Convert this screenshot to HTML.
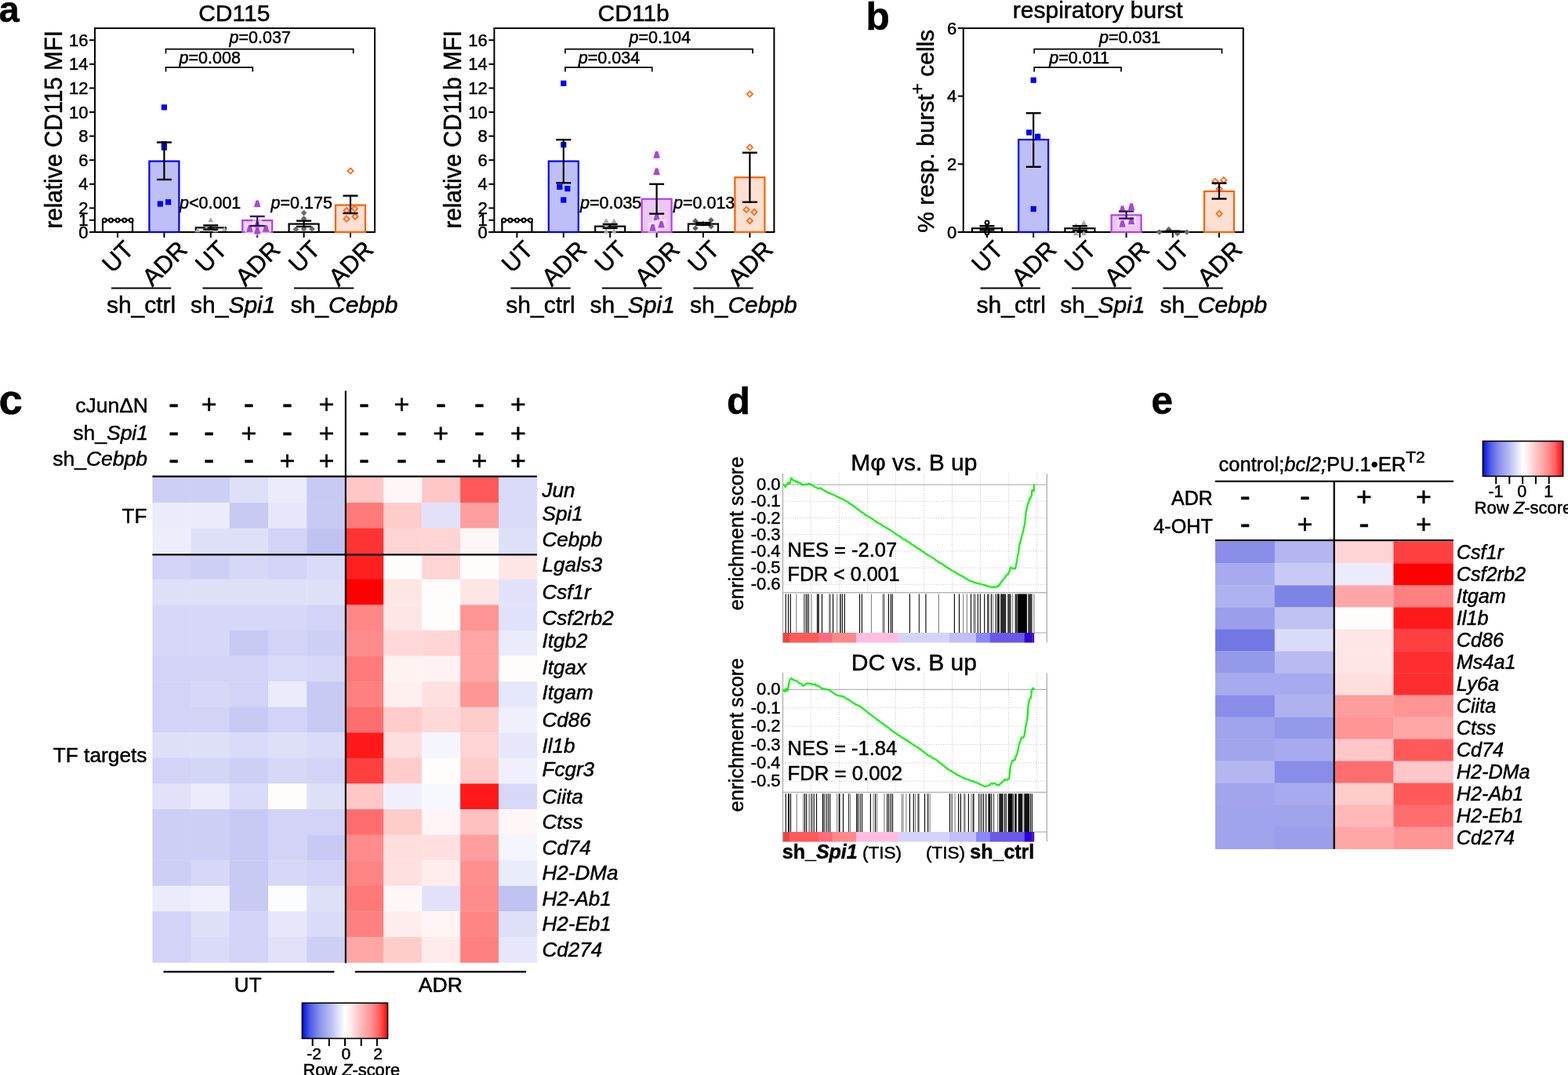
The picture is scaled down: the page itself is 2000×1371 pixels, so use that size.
<!DOCTYPE html>
<html><head><meta charset="utf-8"><title>Figure</title>
<style>html,body{margin:0;padding:0;background:#fff;} svg{display:block;} text{font-family:"Liberation Sans", Arial, Helvetica, sans-serif;stroke:#000;stroke-width:0.5px;} .nb{stroke-width:0;}</style>
</head><body>
<svg width="2000" height="1371" viewBox="0 0 2000 1371" font-family='"Liberation Sans", Arial, Helvetica, sans-serif'>
<rect x="0" y="0" width="2000" height="1371" fill="#fff"/>
<text x="298.8" y="27.1" font-size="30" text-anchor="middle">CD115</text>
<path d="M121,296 L121,36 L478,36 L478,296" fill="none" stroke="#000" stroke-width="2"/>
<line x1="114.00" y1="296.00" x2="479.00" y2="296.00" stroke="#000" stroke-width="2"/>
<line x1="114.00" y1="296.00" x2="121.00" y2="296.00" stroke="#000" stroke-width="2"/>
<text x="112.4" y="303.6" font-size="22" text-anchor="end">0</text>
<line x1="114.00" y1="280.70" x2="121.00" y2="280.70" stroke="#000" stroke-width="2"/>
<text x="112.4" y="288.3" font-size="22" text-anchor="end">1</text>
<line x1="114.00" y1="265.40" x2="121.00" y2="265.40" stroke="#000" stroke-width="2"/>
<text x="112.4" y="273.0" font-size="22" text-anchor="end">2</text>
<line x1="114.00" y1="234.80" x2="121.00" y2="234.80" stroke="#000" stroke-width="2"/>
<text x="112.4" y="242.4" font-size="22" text-anchor="end">4</text>
<line x1="114.00" y1="204.20" x2="121.00" y2="204.20" stroke="#000" stroke-width="2"/>
<text x="112.4" y="211.8" font-size="22" text-anchor="end">6</text>
<line x1="114.00" y1="173.60" x2="121.00" y2="173.60" stroke="#000" stroke-width="2"/>
<text x="112.4" y="181.2" font-size="22" text-anchor="end">8</text>
<line x1="114.00" y1="143.00" x2="121.00" y2="143.00" stroke="#000" stroke-width="2"/>
<text x="112.4" y="150.6" font-size="22" text-anchor="end">10</text>
<line x1="114.00" y1="112.40" x2="121.00" y2="112.40" stroke="#000" stroke-width="2"/>
<text x="112.4" y="120.0" font-size="22" text-anchor="end">12</text>
<line x1="114.00" y1="81.80" x2="121.00" y2="81.80" stroke="#000" stroke-width="2"/>
<text x="112.4" y="89.4" font-size="22" text-anchor="end">14</text>
<line x1="114.00" y1="51.20" x2="121.00" y2="51.20" stroke="#000" stroke-width="2"/>
<text x="112.4" y="58.8" font-size="22" text-anchor="end">16</text>
<line x1="150.00" y1="296.00" x2="150.00" y2="303.00" stroke="#000" stroke-width="2"/>
<line x1="209.40" y1="296.00" x2="209.40" y2="303.00" stroke="#000" stroke-width="2"/>
<line x1="268.80" y1="296.00" x2="268.80" y2="303.00" stroke="#000" stroke-width="2"/>
<line x1="328.20" y1="296.00" x2="328.20" y2="303.00" stroke="#000" stroke-width="2"/>
<line x1="387.60" y1="296.00" x2="387.60" y2="303.00" stroke="#000" stroke-width="2"/>
<line x1="447.00" y1="296.00" x2="447.00" y2="303.00" stroke="#000" stroke-width="2"/>
<rect x="131.00" y="280.70" width="38.00" height="15.30" fill="#fff" stroke="#000" stroke-width="2.2"/>
<rect x="190.40" y="205.58" width="38.00" height="90.42" fill="#bfbff7" stroke="#0000ff" stroke-width="2.2"/>
<rect x="249.80" y="290.34" width="38.00" height="5.66" fill="#fff" stroke="#000" stroke-width="2.2"/>
<rect x="309.20" y="281.01" width="38.00" height="14.99" fill="#ecc8f6" stroke="#b040f0" stroke-width="2.2"/>
<rect x="368.60" y="285.60" width="38.00" height="10.40" fill="#fff" stroke="#000" stroke-width="2.2"/>
<rect x="428.00" y="261.57" width="38.00" height="34.43" fill="#fde0d2" stroke="#ff6000" stroke-width="2.2"/>
<circle cx="133.2" cy="281.0" r="2.4" fill="#fff" stroke="#000" stroke-width="2"/>
<circle cx="141.5" cy="281.0" r="2.4" fill="#fff" stroke="#000" stroke-width="2"/>
<circle cx="150.0" cy="281.0" r="2.4" fill="#fff" stroke="#000" stroke-width="2"/>
<circle cx="158.8" cy="281.0" r="2.4" fill="#fff" stroke="#000" stroke-width="2"/>
<circle cx="167.2" cy="281.0" r="2.4" fill="#fff" stroke="#000" stroke-width="2"/>
<rect x="205.80" y="133.28" width="7.20" height="7.20" fill="#0000ff"/>
<rect x="205.80" y="179.95" width="7.20" height="7.20" fill="#0000ff"/>
<rect x="205.80" y="184.53" width="7.20" height="7.20" fill="#0000ff"/>
<rect x="200.80" y="256.44" width="7.20" height="7.20" fill="#0000ff"/>
<rect x="211.00" y="254.15" width="7.20" height="7.20" fill="#0000ff"/>
<line x1="209.40" y1="181.56" x2="209.40" y2="228.99" stroke="#000" stroke-width="2.2"/>
<line x1="199.90" y1="181.56" x2="218.90" y2="181.56" stroke="#000" stroke-width="2.4"/>
<line x1="199.90" y1="228.99" x2="218.90" y2="228.99" stroke="#000" stroke-width="2.4"/>
<path d="M268.8,277.1 L272.2,283.3 L265.4,283.3 Z" fill="#a8a8a8"/>
<path d="M251.8,290.1 L255.2,296.3 L248.4,296.3 Z" fill="#a8a8a8"/>
<path d="M263.2,287.4 L266.6,293.6 L259.8,293.6 Z" fill="#a8a8a8"/>
<path d="M274.8,290.1 L278.2,296.3 L271.4,296.3 Z" fill="#a8a8a8"/>
<path d="M286.2,288.6 L289.6,294.8 L282.8,294.8 Z" fill="#a8a8a8"/>
<line x1="268.80" y1="287.43" x2="268.80" y2="292.63" stroke="#000" stroke-width="2.2"/>
<line x1="259.30" y1="287.43" x2="278.30" y2="287.43" stroke="#000" stroke-width="2.4"/>
<line x1="259.30" y1="292.63" x2="278.30" y2="292.63" stroke="#000" stroke-width="2.4"/>
<rect x="322.2" y="253.0" width="12" height="13" fill="#f8ecfc" opacity="0.6"/>
<path d="M326.5,255.4 h3.4 L332.4,264.1 h-8.4 Z" fill="#a646de"/>
<rect x="312.5" y="284.7" width="12" height="13" fill="#f8ecfc" opacity="0.6"/>
<path d="M316.8,287.1 h3.4 L322.7,295.8 h-8.4 Z" fill="#a646de"/>
<rect x="333.2" y="284.7" width="12" height="13" fill="#f8ecfc" opacity="0.6"/>
<path d="M337.5,287.1 h3.4 L343.4,295.8 h-8.4 Z" fill="#a646de"/>
<rect x="322.2" y="279.8" width="12" height="13" fill="#f8ecfc" opacity="0.6"/>
<path d="M326.5,282.2 h3.4 L332.4,290.9 h-8.4 Z" fill="#a646de"/>
<rect x="322.2" y="287.5" width="12" height="13" fill="#f8ecfc" opacity="0.6"/>
<path d="M326.5,289.9 h3.4 L332.4,298.6 h-8.4 Z" fill="#a646de"/>
<line x1="328.20" y1="275.96" x2="328.20" y2="288.04" stroke="#3a1050" stroke-width="2.2"/>
<line x1="318.70" y1="275.96" x2="337.70" y2="275.96" stroke="#3a1050" stroke-width="2.4"/>
<line x1="318.70" y1="288.04" x2="337.70" y2="288.04" stroke="#3a1050" stroke-width="2.4"/>
<path d="M387.6,267.7 L391.4,271.5 L387.6,275.3 L383.8,271.5 Z" fill="#6a6a6a"/>
<path d="M387.6,274.9 L391.4,278.7 L387.6,282.5 L383.8,278.7 Z" fill="#6a6a6a"/>
<path d="M377.3,288.8 L381.1,292.6 L377.3,296.4 L373.5,292.6 Z" fill="#6a6a6a"/>
<path d="M387.6,288.1 L391.4,291.9 L387.6,295.7 L383.8,291.9 Z" fill="#6a6a6a"/>
<path d="M398.0,288.1 L401.8,291.9 L398.0,295.7 L394.2,291.9 Z" fill="#6a6a6a"/>
<line x1="387.60" y1="281.62" x2="387.60" y2="288.96" stroke="#000" stroke-width="2.2"/>
<line x1="378.10" y1="281.62" x2="397.10" y2="281.62" stroke="#000" stroke-width="2.4"/>
<line x1="378.10" y1="288.96" x2="397.10" y2="288.96" stroke="#000" stroke-width="2.4"/>
<path d="M447.0,214.4 L450.6,218.0 L447.0,221.6 L443.4,218.0 Z" fill="none" stroke="#ff6a10" stroke-width="1.8"/>
<path d="M442.0,264.9 L445.6,268.5 L442.0,272.1 L438.4,268.5 Z" fill="none" stroke="#ff6a10" stroke-width="1.8"/>
<path d="M452.4,262.6 L456.0,266.2 L452.4,269.8 L448.8,266.2 Z" fill="none" stroke="#ff6a10" stroke-width="1.8"/>
<path d="M442.0,275.6 L445.6,279.2 L442.0,282.8 L438.4,279.2 Z" fill="none" stroke="#ff6a10" stroke-width="1.8"/>
<path d="M453.0,272.5 L456.6,276.1 L453.0,279.7 L449.4,276.1 Z" fill="none" stroke="#ff6a10" stroke-width="1.8"/>
<line x1="447.00" y1="249.64" x2="447.00" y2="271.98" stroke="#000" stroke-width="2.2"/>
<line x1="437.50" y1="249.64" x2="456.50" y2="249.64" stroke="#000" stroke-width="2.4"/>
<line x1="437.50" y1="271.98" x2="456.50" y2="271.98" stroke="#000" stroke-width="2.4"/>
<path d="M211.5,68.3 L211.5,62.7 L450.7,62.7 L450.7,68.3" fill="none" stroke="#000" stroke-width="1.7"/>
<text x="292.6" y="55.3" font-size="21.5"><tspan font-style="italic">p</tspan>=0.037</text>
<path d="M211.5,91.4 L211.5,85.8 L322.3,85.8 L322.3,91.4" fill="none" stroke="#000" stroke-width="1.7"/>
<text x="228.6" y="81.2" font-size="21.5"><tspan font-style="italic">p</tspan>=0.008</text>
<text x="229.0" y="265.5" font-size="21.5"><tspan font-style="italic">p</tspan>&lt;0.001</text>
<text x="345.6" y="265.5" font-size="21.5"><tspan font-style="italic">p</tspan>=0.175</text>
<text x="0" y="0" font-size="31" text-anchor="end" transform="translate(172.5,320.2) rotate(-45)">UT</text>
<text x="0" y="0" font-size="31" text-anchor="end" transform="translate(240.6,320.1) rotate(-45)">ADR</text>
<text x="0" y="0" font-size="31" text-anchor="end" transform="translate(291.3,320.2) rotate(-45)">UT</text>
<text x="0" y="0" font-size="31" text-anchor="end" transform="translate(359.4,320.1) rotate(-45)">ADR</text>
<text x="0" y="0" font-size="31" text-anchor="end" transform="translate(410.1,320.2) rotate(-45)">UT</text>
<text x="0" y="0" font-size="31" text-anchor="end" transform="translate(478.2,320.1) rotate(-45)">ADR</text>
<line x1="142.00" y1="367.50" x2="218.30" y2="367.50" stroke="#000" stroke-width="2.2"/>
<line x1="258.50" y1="367.50" x2="334.80" y2="367.50" stroke="#000" stroke-width="2.2"/>
<line x1="375.00" y1="367.50" x2="451.30" y2="367.50" stroke="#000" stroke-width="2.2"/>
<text x="135.9" y="398.8" font-size="30">sh_ctrl</text>
<text x="243.0" y="398.75" font-size="30">sh_<tspan font-style="italic">Spi1</tspan></text>
<text x="370.6" y="398.75" font-size="30">sh_<tspan font-style="italic">Cebpb</tspan></text>
<text x="0" y="0" font-size="30.5" text-anchor="middle" textLength="252.5" lengthAdjust="spacingAndGlyphs" transform="translate(79.0,165.3) rotate(-90)">relative CD115 MFI</text>
<text x="808.2" y="27.1" font-size="30" text-anchor="middle">CD11b</text>
<path d="M630.4,296 L630.4,36 L987.4,36 L987.4,296" fill="none" stroke="#000" stroke-width="2"/>
<line x1="623.40" y1="296.00" x2="988.40" y2="296.00" stroke="#000" stroke-width="2"/>
<line x1="623.40" y1="296.00" x2="630.40" y2="296.00" stroke="#000" stroke-width="2"/>
<text x="621.8" y="303.6" font-size="22" text-anchor="end">0</text>
<line x1="623.40" y1="280.70" x2="630.40" y2="280.70" stroke="#000" stroke-width="2"/>
<text x="621.8" y="288.3" font-size="22" text-anchor="end">1</text>
<line x1="623.40" y1="265.40" x2="630.40" y2="265.40" stroke="#000" stroke-width="2"/>
<text x="621.8" y="273.0" font-size="22" text-anchor="end">2</text>
<line x1="623.40" y1="234.80" x2="630.40" y2="234.80" stroke="#000" stroke-width="2"/>
<text x="621.8" y="242.4" font-size="22" text-anchor="end">4</text>
<line x1="623.40" y1="204.20" x2="630.40" y2="204.20" stroke="#000" stroke-width="2"/>
<text x="621.8" y="211.8" font-size="22" text-anchor="end">6</text>
<line x1="623.40" y1="173.60" x2="630.40" y2="173.60" stroke="#000" stroke-width="2"/>
<text x="621.8" y="181.2" font-size="22" text-anchor="end">8</text>
<line x1="623.40" y1="143.00" x2="630.40" y2="143.00" stroke="#000" stroke-width="2"/>
<text x="621.8" y="150.6" font-size="22" text-anchor="end">10</text>
<line x1="623.40" y1="112.40" x2="630.40" y2="112.40" stroke="#000" stroke-width="2"/>
<text x="621.8" y="120.0" font-size="22" text-anchor="end">12</text>
<line x1="623.40" y1="81.80" x2="630.40" y2="81.80" stroke="#000" stroke-width="2"/>
<text x="621.8" y="89.4" font-size="22" text-anchor="end">14</text>
<line x1="623.40" y1="51.20" x2="630.40" y2="51.20" stroke="#000" stroke-width="2"/>
<text x="621.8" y="58.8" font-size="22" text-anchor="end">16</text>
<line x1="659.40" y1="296.00" x2="659.40" y2="303.00" stroke="#000" stroke-width="2"/>
<line x1="718.80" y1="296.00" x2="718.80" y2="303.00" stroke="#000" stroke-width="2"/>
<line x1="778.20" y1="296.00" x2="778.20" y2="303.00" stroke="#000" stroke-width="2"/>
<line x1="837.60" y1="296.00" x2="837.60" y2="303.00" stroke="#000" stroke-width="2"/>
<line x1="897.00" y1="296.00" x2="897.00" y2="303.00" stroke="#000" stroke-width="2"/>
<line x1="956.40" y1="296.00" x2="956.40" y2="303.00" stroke="#000" stroke-width="2"/>
<rect x="640.40" y="280.70" width="38.00" height="15.30" fill="#fff" stroke="#000" stroke-width="2.2"/>
<rect x="699.80" y="205.58" width="38.00" height="90.42" fill="#bfbff7" stroke="#0000ff" stroke-width="2.2"/>
<rect x="759.20" y="288.66" width="38.00" height="7.34" fill="#fff" stroke="#000" stroke-width="2.2"/>
<rect x="818.60" y="253.77" width="38.00" height="42.23" fill="#ecc8f6" stroke="#b040f0" stroke-width="2.2"/>
<rect x="878.00" y="285.60" width="38.00" height="10.40" fill="#fff" stroke="#000" stroke-width="2.2"/>
<rect x="937.40" y="226.23" width="38.00" height="69.77" fill="#fde0d2" stroke="#ff6000" stroke-width="2.2"/>
<circle cx="642.6" cy="281.0" r="2.4" fill="#fff" stroke="#000" stroke-width="2"/>
<circle cx="650.9" cy="281.0" r="2.4" fill="#fff" stroke="#000" stroke-width="2"/>
<circle cx="659.4" cy="281.0" r="2.4" fill="#fff" stroke="#000" stroke-width="2"/>
<circle cx="668.1" cy="281.0" r="2.4" fill="#fff" stroke="#000" stroke-width="2"/>
<circle cx="676.6" cy="281.0" r="2.4" fill="#fff" stroke="#000" stroke-width="2"/>
<rect x="715.20" y="102.68" width="7.20" height="7.20" fill="#0000ff"/>
<rect x="715.20" y="181.02" width="7.20" height="7.20" fill="#0000ff"/>
<rect x="710.20" y="234.72" width="7.20" height="7.20" fill="#0000ff"/>
<rect x="720.20" y="237.01" width="7.20" height="7.20" fill="#0000ff"/>
<rect x="715.20" y="251.40" width="7.20" height="7.20" fill="#0000ff"/>
<line x1="718.80" y1="178.19" x2="718.80" y2="233.27" stroke="#000" stroke-width="2.2"/>
<line x1="709.30" y1="178.19" x2="728.30" y2="178.19" stroke="#000" stroke-width="2.4"/>
<line x1="709.30" y1="233.27" x2="728.30" y2="233.27" stroke="#000" stroke-width="2.4"/>
<path d="M773.2,277.9 L776.6,284.1 L769.8,284.1 Z" fill="#a8a8a8"/>
<path d="M783.2,278.6 L786.6,284.8 L779.8,284.8 Z" fill="#a8a8a8"/>
<path d="M773.2,284.8 L776.6,291.0 L769.8,291.0 Z" fill="#a8a8a8"/>
<path d="M773.2,291.3 L776.6,297.5 L769.8,297.5 Z" fill="#a8a8a8"/>
<path d="M783.2,291.3 L786.6,297.5 L779.8,297.5 Z" fill="#a8a8a8"/>
<line x1="778.20" y1="285.90" x2="778.20" y2="290.95" stroke="#000" stroke-width="2.2"/>
<line x1="768.70" y1="285.90" x2="787.70" y2="285.90" stroke="#000" stroke-width="2.4"/>
<line x1="768.70" y1="290.95" x2="787.70" y2="290.95" stroke="#000" stroke-width="2.4"/>
<rect x="831.6" y="190.6" width="12" height="13" fill="#f8ecfc" opacity="0.6"/>
<path d="M835.9,193.0 h3.4 L841.8,201.7 h-8.4 Z" fill="#a646de"/>
<rect x="831.6" y="212.0" width="12" height="13" fill="#f8ecfc" opacity="0.6"/>
<path d="M835.9,214.4 h3.4 L841.8,223.1 h-8.4 Z" fill="#a646de"/>
<rect x="831.6" y="269.9" width="12" height="13" fill="#f8ecfc" opacity="0.6"/>
<path d="M835.9,272.3 h3.4 L841.8,281.0 h-8.4 Z" fill="#a646de"/>
<rect x="837.6" y="279.5" width="12" height="13" fill="#f8ecfc" opacity="0.6"/>
<path d="M841.9,281.9 h3.4 L847.8,290.6 h-8.4 Z" fill="#a646de"/>
<rect x="826.6" y="283.6" width="12" height="13" fill="#f8ecfc" opacity="0.6"/>
<path d="M830.9,286.0 h3.4 L836.8,294.7 h-8.4 Z" fill="#a646de"/>
<line x1="837.60" y1="234.80" x2="837.60" y2="272.59" stroke="#000" stroke-width="2.2"/>
<line x1="828.10" y1="234.80" x2="847.10" y2="234.80" stroke="#000" stroke-width="2.4"/>
<line x1="828.10" y1="272.59" x2="847.10" y2="272.59" stroke="#000" stroke-width="2.4"/>
<path d="M887.0,278.1 L890.8,281.9 L887.0,285.7 L883.2,281.9 Z" fill="#606060"/>
<path d="M907.0,276.9 L910.8,280.7 L907.0,284.5 L903.2,280.7 Z" fill="#606060"/>
<path d="M887.0,287.2 L890.8,291.0 L887.0,294.8 L883.2,291.0 Z" fill="#606060"/>
<path d="M907.0,284.9 L910.8,288.7 L907.0,292.5 L903.2,288.7 Z" fill="#606060"/>
<path d="M897.0,281.5 L900.8,285.3 L897.0,289.1 L893.2,285.3 Z" fill="#606060"/>
<line x1="897.00" y1="284.07" x2="897.00" y2="286.82" stroke="#000" stroke-width="2.2"/>
<line x1="887.50" y1="284.07" x2="906.50" y2="284.07" stroke="#000" stroke-width="2.4"/>
<line x1="887.50" y1="286.82" x2="906.50" y2="286.82" stroke="#000" stroke-width="2.4"/>
<path d="M956.4,116.4 L960.0,120.0 L956.4,123.6 L952.8,120.0 Z" fill="none" stroke="#ff6a10" stroke-width="1.8"/>
<path d="M956.4,184.4 L960.0,188.0 L956.4,191.6 L952.8,188.0 Z" fill="none" stroke="#ff6a10" stroke-width="1.8"/>
<path d="M952.0,263.9 L955.6,267.5 L952.0,271.1 L948.4,267.5 Z" fill="none" stroke="#ff6a10" stroke-width="1.8"/>
<path d="M962.0,267.0 L965.6,270.6 L962.0,274.2 L958.4,270.6 Z" fill="none" stroke="#ff6a10" stroke-width="1.8"/>
<path d="M956.4,278.0 L960.0,281.6 L956.4,285.2 L952.8,281.6 Z" fill="none" stroke="#ff6a10" stroke-width="1.8"/>
<line x1="956.40" y1="194.71" x2="956.40" y2="257.75" stroke="#000" stroke-width="2.2"/>
<line x1="946.90" y1="194.71" x2="965.90" y2="194.71" stroke="#000" stroke-width="2.4"/>
<line x1="946.90" y1="257.75" x2="965.90" y2="257.75" stroke="#000" stroke-width="2.4"/>
<path d="M720.9,68.3 L720.9,62.7 L960.1,62.7 L960.1,68.3" fill="none" stroke="#000" stroke-width="1.7"/>
<text x="802.6" y="55.3" font-size="21.5"><tspan font-style="italic">p</tspan>=0.104</text>
<path d="M720.9,91.4 L720.9,85.8 L831.7,85.8 L831.7,91.4" fill="none" stroke="#000" stroke-width="1.7"/>
<text x="737.8" y="81.2" font-size="21.5"><tspan font-style="italic">p</tspan>=0.034</text>
<text x="740.0" y="265.5" font-size="21.5"><tspan font-style="italic">p</tspan>=0.035</text>
<text x="859.0" y="265.5" font-size="21.5"><tspan font-style="italic">p</tspan>=0.013</text>
<text x="0" y="0" font-size="31" text-anchor="end" transform="translate(681.9,320.2) rotate(-45)">UT</text>
<text x="0" y="0" font-size="31" text-anchor="end" transform="translate(750.0,320.1) rotate(-45)">ADR</text>
<text x="0" y="0" font-size="31" text-anchor="end" transform="translate(800.7,320.2) rotate(-45)">UT</text>
<text x="0" y="0" font-size="31" text-anchor="end" transform="translate(868.8,320.1) rotate(-45)">ADR</text>
<text x="0" y="0" font-size="31" text-anchor="end" transform="translate(919.5,320.2) rotate(-45)">UT</text>
<text x="0" y="0" font-size="31" text-anchor="end" transform="translate(987.6,320.1) rotate(-45)">ADR</text>
<line x1="651.40" y1="367.50" x2="727.70" y2="367.50" stroke="#000" stroke-width="2.2"/>
<line x1="767.90" y1="367.50" x2="844.20" y2="367.50" stroke="#000" stroke-width="2.2"/>
<line x1="884.40" y1="367.50" x2="960.70" y2="367.50" stroke="#000" stroke-width="2.2"/>
<text x="645.3" y="398.8" font-size="30">sh_ctrl</text>
<text x="752.4" y="398.75" font-size="30">sh_<tspan font-style="italic">Spi1</tspan></text>
<text x="880.0" y="398.75" font-size="30">sh_<tspan font-style="italic">Cebpb</tspan></text>
<text x="0" y="0" font-size="30.5" text-anchor="middle" textLength="252.5" lengthAdjust="spacingAndGlyphs" transform="translate(588.4,165.3) rotate(-90)">relative CD11b MFI</text>
<text x="1400.2" y="22.5" font-size="30" text-anchor="middle">respiratory burst</text>
<path d="M1228.75,296 L1228.75,36 L1585.75,36 L1585.75,296" fill="none" stroke="#000" stroke-width="2"/>
<line x1="1221.75" y1="296.00" x2="1586.75" y2="296.00" stroke="#000" stroke-width="2"/>
<line x1="1221.75" y1="296.00" x2="1228.75" y2="296.00" stroke="#000" stroke-width="2"/>
<text x="1220.2" y="303.6" font-size="22" text-anchor="end">0</text>
<line x1="1221.75" y1="209.30" x2="1228.75" y2="209.30" stroke="#000" stroke-width="2"/>
<text x="1220.2" y="216.9" font-size="22" text-anchor="end">2</text>
<line x1="1221.75" y1="122.60" x2="1228.75" y2="122.60" stroke="#000" stroke-width="2"/>
<text x="1220.2" y="130.2" font-size="22" text-anchor="end">4</text>
<line x1="1221.75" y1="35.90" x2="1228.75" y2="35.90" stroke="#000" stroke-width="2"/>
<text x="1220.2" y="43.5" font-size="22" text-anchor="end">6</text>
<line x1="1258.95" y1="296.00" x2="1258.95" y2="303.00" stroke="#000" stroke-width="2"/>
<line x1="1318.17" y1="296.00" x2="1318.17" y2="303.00" stroke="#000" stroke-width="2"/>
<line x1="1377.39" y1="296.00" x2="1377.39" y2="303.00" stroke="#000" stroke-width="2"/>
<line x1="1436.61" y1="296.00" x2="1436.61" y2="303.00" stroke="#000" stroke-width="2"/>
<line x1="1495.83" y1="296.00" x2="1495.83" y2="303.00" stroke="#000" stroke-width="2"/>
<line x1="1555.05" y1="296.00" x2="1555.05" y2="303.00" stroke="#000" stroke-width="2"/>
<rect x="1239.95" y="291.23" width="38.00" height="4.77" fill="#fff" stroke="#000" stroke-width="2.2"/>
<rect x="1299.17" y="178.09" width="38.00" height="117.91" fill="#bfbff7" stroke="#0000ff" stroke-width="2.2"/>
<rect x="1358.39" y="291.23" width="38.00" height="4.77" fill="#fff" stroke="#000" stroke-width="2.2"/>
<rect x="1417.61" y="274.32" width="38.00" height="21.68" fill="#ecc8f6" stroke="#b040f0" stroke-width="2.2"/>
<rect x="1476.83" y="295.13" width="38.00" height="0.87" fill="#fff" stroke="#000" stroke-width="2.2"/>
<rect x="1536.05" y="243.98" width="38.00" height="52.02" fill="#fde0d2" stroke="#ff6000" stroke-width="2.2"/>
<circle cx="1259.0" cy="283.9" r="2.4" fill="#fff" stroke="#000" stroke-width="2"/>
<circle cx="1259.0" cy="292.5" r="2.4" fill="#fff" stroke="#000" stroke-width="2"/>
<circle cx="1259.0" cy="295.1" r="2.4" fill="#fff" stroke="#000" stroke-width="2"/>
<circle cx="1259.0" cy="296.9" r="2.4" fill="#fff" stroke="#000" stroke-width="2"/>
<circle cx="1259.0" cy="293.8" r="2.4" fill="#fff" stroke="#000" stroke-width="2"/>
<line x1="1258.95" y1="288.20" x2="1258.95" y2="293.40" stroke="#000" stroke-width="2.2"/>
<line x1="1249.45" y1="288.20" x2="1268.45" y2="288.20" stroke="#000" stroke-width="2.4"/>
<line x1="1249.45" y1="293.40" x2="1268.45" y2="293.40" stroke="#000" stroke-width="2.4"/>
<rect x="1314.57" y="98.63" width="7.20" height="7.20" fill="#0000ff"/>
<rect x="1309.07" y="165.38" width="7.20" height="7.20" fill="#0000ff"/>
<rect x="1320.07" y="170.59" width="7.20" height="7.20" fill="#0000ff"/>
<rect x="1314.57" y="262.92" width="7.20" height="7.20" fill="#0000ff"/>
<line x1="1318.17" y1="144.28" x2="1318.17" y2="212.77" stroke="#000" stroke-width="2.2"/>
<line x1="1308.67" y1="144.28" x2="1327.67" y2="144.28" stroke="#000" stroke-width="2.4"/>
<line x1="1308.67" y1="212.77" x2="1327.67" y2="212.77" stroke="#000" stroke-width="2.4"/>
<path d="M1382.4,280.7 L1385.8,286.9 L1379.0,286.9 Z" fill="#a8a8a8"/>
<path d="M1372.4,284.2 L1375.8,290.4 L1369.0,290.4 Z" fill="#a8a8a8"/>
<path d="M1372.4,294.1 L1375.8,300.3 L1369.0,300.3 Z" fill="#a8a8a8"/>
<path d="M1382.4,294.1 L1385.8,300.3 L1379.0,300.3 Z" fill="#a8a8a8"/>
<line x1="1377.39" y1="288.20" x2="1377.39" y2="293.83" stroke="#000" stroke-width="2.2"/>
<line x1="1367.89" y1="288.20" x2="1386.89" y2="288.20" stroke="#000" stroke-width="2.4"/>
<line x1="1367.89" y1="293.83" x2="1386.89" y2="293.83" stroke="#000" stroke-width="2.4"/>
<rect x="1425.6" y="260.0" width="12" height="13" fill="#f8ecfc" opacity="0.6"/>
<path d="M1429.9,262.4 h3.4 L1435.8,271.1 h-8.4 Z" fill="#a646de"/>
<rect x="1437.1" y="256.9" width="12" height="13" fill="#f8ecfc" opacity="0.6"/>
<path d="M1441.4,259.3 h3.4 L1447.3,268.0 h-8.4 Z" fill="#a646de"/>
<rect x="1425.6" y="278.6" width="12" height="13" fill="#f8ecfc" opacity="0.6"/>
<path d="M1429.9,281.0 h3.4 L1435.8,289.7 h-8.4 Z" fill="#a646de"/>
<rect x="1437.1" y="275.1" width="12" height="13" fill="#f8ecfc" opacity="0.6"/>
<path d="M1441.4,277.5 h3.4 L1447.3,286.2 h-8.4 Z" fill="#a646de"/>
<line x1="1436.61" y1="269.56" x2="1436.61" y2="278.66" stroke="#3a1050" stroke-width="2.2"/>
<line x1="1427.11" y1="269.56" x2="1446.11" y2="269.56" stroke="#3a1050" stroke-width="2.4"/>
<line x1="1427.11" y1="278.66" x2="1446.11" y2="278.66" stroke="#3a1050" stroke-width="2.4"/>
<path d="M1478.8,292.2 L1482.6,296.0 L1478.8,299.8 L1475.0,296.0 Z" fill="#6a6a6a"/>
<path d="M1490.8,288.7 L1494.6,292.5 L1490.8,296.3 L1487.0,292.5 Z" fill="#6a6a6a"/>
<path d="M1501.8,293.9 L1505.6,297.7 L1501.8,301.5 L1498.0,297.7 Z" fill="#6a6a6a"/>
<path d="M1513.8,292.2 L1517.6,296.0 L1513.8,299.8 L1510.0,296.0 Z" fill="#6a6a6a"/>
<line x1="1495.83" y1="294.70" x2="1495.83" y2="295.57" stroke="#000" stroke-width="2.2"/>
<line x1="1486.33" y1="294.70" x2="1505.33" y2="294.70" stroke="#000" stroke-width="2.4"/>
<line x1="1486.33" y1="295.57" x2="1505.33" y2="295.57" stroke="#000" stroke-width="2.4"/>
<path d="M1550.1,227.8 L1553.7,231.4 L1550.1,235.0 L1546.5,231.4 Z" fill="none" stroke="#ff6a10" stroke-width="1.8"/>
<path d="M1560.8,226.1 L1564.4,229.7 L1560.8,233.3 L1557.2,229.7 Z" fill="none" stroke="#ff6a10" stroke-width="1.8"/>
<path d="M1555.1,237.3 L1558.7,240.9 L1555.1,244.5 L1551.5,240.9 Z" fill="none" stroke="#ff6a10" stroke-width="1.8"/>
<path d="M1555.1,269.0 L1558.7,272.6 L1555.1,276.2 L1551.5,272.6 Z" fill="none" stroke="#ff6a10" stroke-width="1.8"/>
<line x1="1555.05" y1="233.58" x2="1555.05" y2="253.52" stroke="#000" stroke-width="2.2"/>
<line x1="1545.55" y1="233.58" x2="1564.55" y2="233.58" stroke="#000" stroke-width="2.4"/>
<line x1="1545.55" y1="253.52" x2="1564.55" y2="253.52" stroke="#000" stroke-width="2.4"/>
<path d="M1319.2,68.3 L1319.2,62.7 L1558.5,62.7 L1558.5,68.3" fill="none" stroke="#000" stroke-width="1.7"/>
<text x="1402.0" y="55.3" font-size="21.5"><tspan font-style="italic">p</tspan>=0.031</text>
<path d="M1319.2,91.4 L1319.2,85.8 L1430.0,85.8 L1430.0,91.4" fill="none" stroke="#000" stroke-width="1.7"/>
<text x="1338.3" y="81.2" font-size="21.5"><tspan font-style="italic">p</tspan>=0.011</text>
<text x="0" y="0" font-size="31" text-anchor="end" transform="translate(1281.5,320.2) rotate(-45)">UT</text>
<text x="0" y="0" font-size="31" text-anchor="end" transform="translate(1349.4,320.1) rotate(-45)">ADR</text>
<text x="0" y="0" font-size="31" text-anchor="end" transform="translate(1399.9,320.2) rotate(-45)">UT</text>
<text x="0" y="0" font-size="31" text-anchor="end" transform="translate(1467.8,320.1) rotate(-45)">ADR</text>
<text x="0" y="0" font-size="31" text-anchor="end" transform="translate(1518.3,320.2) rotate(-45)">UT</text>
<text x="0" y="0" font-size="31" text-anchor="end" transform="translate(1586.3,320.1) rotate(-45)">ADR</text>
<line x1="1250.50" y1="367.50" x2="1326.80" y2="367.50" stroke="#000" stroke-width="2.2"/>
<line x1="1367.00" y1="367.50" x2="1443.30" y2="367.50" stroke="#000" stroke-width="2.2"/>
<line x1="1483.50" y1="367.50" x2="1559.80" y2="367.50" stroke="#000" stroke-width="2.2"/>
<text x="1245.6" y="398.8" font-size="30">sh_ctrl</text>
<text x="1352.2" y="398.75" font-size="30">sh_<tspan font-style="italic">Spi1</tspan></text>
<text x="1479.4" y="398.75" font-size="30">sh_<tspan font-style="italic">Cebpb</tspan></text>
<text x="0" y="0" font-size="30" text-anchor="middle" transform="translate(1190.8,167.3) rotate(-90)">% resp. burst<tspan font-size="24" dy="-12.5">+</tspan><tspan dy="12.5"> cells</tspan></text>
<text x="-1.3" y="28.0" font-size="46.5" font-weight="bold">a</text>
<text x="1104.6" y="37.6" font-size="49.5" font-weight="bold">b</text>
<rect x="194.40" y="608.50" width="49.50" height="32.88" fill="#cdcff5"/>
<rect x="243.60" y="608.50" width="49.50" height="32.88" fill="#cdcff5"/>
<rect x="292.80" y="608.50" width="49.50" height="32.88" fill="#dee0f8"/>
<rect x="342.00" y="608.50" width="49.50" height="32.88" fill="#ebecfb"/>
<rect x="391.20" y="608.50" width="49.50" height="32.88" fill="#c8caf4"/>
<rect x="440.40" y="608.50" width="49.20" height="32.88" fill="#ffc7c7"/>
<rect x="489.30" y="608.50" width="49.20" height="32.88" fill="#fff7f7"/>
<rect x="538.20" y="608.50" width="49.20" height="32.88" fill="#ffc7c7"/>
<rect x="587.10" y="608.50" width="49.20" height="32.88" fill="#ff5959"/>
<rect x="636.00" y="608.50" width="49.20" height="32.88" fill="#d9dbf8"/>
<rect x="194.40" y="641.08" width="49.50" height="32.88" fill="#ebecfb"/>
<rect x="243.60" y="641.08" width="49.50" height="32.88" fill="#ebecfb"/>
<rect x="292.80" y="641.08" width="49.50" height="32.88" fill="#c8caf4"/>
<rect x="342.00" y="641.08" width="49.50" height="32.88" fill="#e6e7fa"/>
<rect x="391.20" y="641.08" width="49.50" height="32.88" fill="#c8caf4"/>
<rect x="440.40" y="641.08" width="49.20" height="32.88" fill="#ff7a7a"/>
<rect x="489.30" y="641.08" width="49.20" height="32.88" fill="#ffcccc"/>
<rect x="538.20" y="641.08" width="49.20" height="32.88" fill="#e1e2f9"/>
<rect x="587.10" y="641.08" width="49.20" height="32.88" fill="#ff9e9e"/>
<rect x="636.00" y="641.08" width="49.20" height="32.88" fill="#d9dbf8"/>
<rect x="194.40" y="673.66" width="49.50" height="32.88" fill="#edeefc"/>
<rect x="243.60" y="673.66" width="49.50" height="32.88" fill="#dee0f8"/>
<rect x="292.80" y="673.66" width="49.50" height="32.88" fill="#dee0f8"/>
<rect x="342.00" y="673.66" width="49.50" height="32.88" fill="#d2d3f6"/>
<rect x="391.20" y="673.66" width="49.50" height="32.88" fill="#c0c2f2"/>
<rect x="440.40" y="673.66" width="49.20" height="32.88" fill="#ff3333"/>
<rect x="489.30" y="673.66" width="49.20" height="32.88" fill="#ffd4d4"/>
<rect x="538.20" y="673.66" width="49.20" height="32.88" fill="#ffd4d4"/>
<rect x="587.10" y="673.66" width="49.20" height="32.88" fill="#fff7f7"/>
<rect x="636.00" y="673.66" width="49.20" height="32.88" fill="#dee0f8"/>
<rect x="194.40" y="706.24" width="49.50" height="32.88" fill="#d2d3f6"/>
<rect x="243.60" y="706.24" width="49.50" height="32.88" fill="#cdcff5"/>
<rect x="292.80" y="706.24" width="49.50" height="32.88" fill="#d7d8f7"/>
<rect x="342.00" y="706.24" width="49.50" height="32.88" fill="#d2d3f6"/>
<rect x="391.20" y="706.24" width="49.50" height="32.88" fill="#d9dbf8"/>
<rect x="440.40" y="706.24" width="49.20" height="32.88" fill="#ff1f1f"/>
<rect x="489.30" y="706.24" width="49.20" height="32.88" fill="#fffcfc"/>
<rect x="538.20" y="706.24" width="49.20" height="32.88" fill="#ffd4d4"/>
<rect x="587.10" y="706.24" width="49.20" height="32.88" fill="#fffcfc"/>
<rect x="636.00" y="706.24" width="49.20" height="32.88" fill="#ffe6e6"/>
<rect x="194.40" y="738.82" width="49.50" height="32.88" fill="#dee0f8"/>
<rect x="243.60" y="738.82" width="49.50" height="32.88" fill="#dee0f8"/>
<rect x="292.80" y="738.82" width="49.50" height="32.88" fill="#dee0f8"/>
<rect x="342.00" y="738.82" width="49.50" height="32.88" fill="#dee0f8"/>
<rect x="391.20" y="738.82" width="49.50" height="32.88" fill="#dee0f8"/>
<rect x="440.40" y="738.82" width="49.20" height="32.88" fill="#ff0000"/>
<rect x="489.30" y="738.82" width="49.20" height="32.88" fill="#ffe6e6"/>
<rect x="538.20" y="738.82" width="49.20" height="32.88" fill="#fffcfc"/>
<rect x="587.10" y="738.82" width="49.20" height="32.88" fill="#ffe6e6"/>
<rect x="636.00" y="738.82" width="49.20" height="32.88" fill="#e1e2f9"/>
<rect x="194.40" y="771.40" width="49.50" height="32.88" fill="#d7d8f7"/>
<rect x="243.60" y="771.40" width="49.50" height="32.88" fill="#d7d8f7"/>
<rect x="292.80" y="771.40" width="49.50" height="32.88" fill="#d7d8f7"/>
<rect x="342.00" y="771.40" width="49.50" height="32.88" fill="#d7d8f7"/>
<rect x="391.20" y="771.40" width="49.50" height="32.88" fill="#d2d3f6"/>
<rect x="440.40" y="771.40" width="49.20" height="32.88" fill="#ff8787"/>
<rect x="489.30" y="771.40" width="49.20" height="32.88" fill="#ffe6e6"/>
<rect x="538.20" y="771.40" width="49.20" height="32.88" fill="#fffcfc"/>
<rect x="587.10" y="771.40" width="49.20" height="32.88" fill="#ff9494"/>
<rect x="636.00" y="771.40" width="49.20" height="32.88" fill="#e1e2f9"/>
<rect x="194.40" y="803.98" width="49.50" height="32.88" fill="#d7d8f7"/>
<rect x="243.60" y="803.98" width="49.50" height="32.88" fill="#d7d8f7"/>
<rect x="292.80" y="803.98" width="49.50" height="32.88" fill="#c8caf4"/>
<rect x="342.00" y="803.98" width="49.50" height="32.88" fill="#d2d3f6"/>
<rect x="391.20" y="803.98" width="49.50" height="32.88" fill="#cdcff5"/>
<rect x="440.40" y="803.98" width="49.20" height="32.88" fill="#ff8c8c"/>
<rect x="489.30" y="803.98" width="49.20" height="32.88" fill="#ffd9d9"/>
<rect x="538.20" y="803.98" width="49.20" height="32.88" fill="#ffd4d4"/>
<rect x="587.10" y="803.98" width="49.20" height="32.88" fill="#ffa6a6"/>
<rect x="636.00" y="803.98" width="49.20" height="32.88" fill="#ebecfb"/>
<rect x="194.40" y="836.56" width="49.50" height="32.88" fill="#d2d3f6"/>
<rect x="243.60" y="836.56" width="49.50" height="32.88" fill="#d2d3f6"/>
<rect x="292.80" y="836.56" width="49.50" height="32.88" fill="#d2d3f6"/>
<rect x="342.00" y="836.56" width="49.50" height="32.88" fill="#d9dbf8"/>
<rect x="391.20" y="836.56" width="49.50" height="32.88" fill="#d7d8f7"/>
<rect x="440.40" y="836.56" width="49.20" height="32.88" fill="#ff7a7a"/>
<rect x="489.30" y="836.56" width="49.20" height="32.88" fill="#fff2f2"/>
<rect x="538.20" y="836.56" width="49.20" height="32.88" fill="#fff2f2"/>
<rect x="587.10" y="836.56" width="49.20" height="32.88" fill="#ffa6a6"/>
<rect x="636.00" y="836.56" width="49.20" height="32.88" fill="#fffcfc"/>
<rect x="194.40" y="869.14" width="49.50" height="32.88" fill="#d2d3f6"/>
<rect x="243.60" y="869.14" width="49.50" height="32.88" fill="#d7d8f7"/>
<rect x="292.80" y="869.14" width="49.50" height="32.88" fill="#d2d3f6"/>
<rect x="342.00" y="869.14" width="49.50" height="32.88" fill="#ebecfb"/>
<rect x="391.20" y="869.14" width="49.50" height="32.88" fill="#c8caf4"/>
<rect x="440.40" y="869.14" width="49.20" height="32.88" fill="#ff8080"/>
<rect x="489.30" y="869.14" width="49.20" height="32.88" fill="#fff0f0"/>
<rect x="538.20" y="869.14" width="49.20" height="32.88" fill="#ffe0e0"/>
<rect x="587.10" y="869.14" width="49.20" height="32.88" fill="#ff9696"/>
<rect x="636.00" y="869.14" width="49.20" height="32.88" fill="#e6e7fa"/>
<rect x="194.40" y="901.72" width="49.50" height="32.88" fill="#d2d3f6"/>
<rect x="243.60" y="901.72" width="49.50" height="32.88" fill="#d2d3f6"/>
<rect x="292.80" y="901.72" width="49.50" height="32.88" fill="#c8caf4"/>
<rect x="342.00" y="901.72" width="49.50" height="32.88" fill="#d2d3f6"/>
<rect x="391.20" y="901.72" width="49.50" height="32.88" fill="#c8caf4"/>
<rect x="440.40" y="901.72" width="49.20" height="32.88" fill="#ff6e6e"/>
<rect x="489.30" y="901.72" width="49.20" height="32.88" fill="#ffcccc"/>
<rect x="538.20" y="901.72" width="49.20" height="32.88" fill="#ffd9d9"/>
<rect x="587.10" y="901.72" width="49.20" height="32.88" fill="#ffcccc"/>
<rect x="636.00" y="901.72" width="49.20" height="32.88" fill="#f0f0fc"/>
<rect x="194.40" y="934.30" width="49.50" height="32.88" fill="#dee0f8"/>
<rect x="243.60" y="934.30" width="49.50" height="32.88" fill="#dee0f8"/>
<rect x="292.80" y="934.30" width="49.50" height="32.88" fill="#d9dbf8"/>
<rect x="342.00" y="934.30" width="49.50" height="32.88" fill="#dee0f8"/>
<rect x="391.20" y="934.30" width="49.50" height="32.88" fill="#d9dbf8"/>
<rect x="440.40" y="934.30" width="49.20" height="32.88" fill="#ff1919"/>
<rect x="489.30" y="934.30" width="49.20" height="32.88" fill="#ffdede"/>
<rect x="538.20" y="934.30" width="49.20" height="32.88" fill="#f5f5fd"/>
<rect x="587.10" y="934.30" width="49.20" height="32.88" fill="#ffd4d4"/>
<rect x="636.00" y="934.30" width="49.20" height="32.88" fill="#e6e7fa"/>
<rect x="194.40" y="966.88" width="49.50" height="32.88" fill="#d2d3f6"/>
<rect x="243.60" y="966.88" width="49.50" height="32.88" fill="#d4d6f6"/>
<rect x="292.80" y="966.88" width="49.50" height="32.88" fill="#cdcff5"/>
<rect x="342.00" y="966.88" width="49.50" height="32.88" fill="#d7d8f7"/>
<rect x="391.20" y="966.88" width="49.50" height="32.88" fill="#d2d3f6"/>
<rect x="440.40" y="966.88" width="49.20" height="32.88" fill="#ff4040"/>
<rect x="489.30" y="966.88" width="49.20" height="32.88" fill="#ffcccc"/>
<rect x="538.20" y="966.88" width="49.20" height="32.88" fill="#fffcfc"/>
<rect x="587.10" y="966.88" width="49.20" height="32.88" fill="#ffcccc"/>
<rect x="636.00" y="966.88" width="49.20" height="32.88" fill="#f0f0fc"/>
<rect x="194.40" y="999.46" width="49.50" height="32.88" fill="#e1e2f9"/>
<rect x="243.60" y="999.46" width="49.50" height="32.88" fill="#ebecfb"/>
<rect x="292.80" y="999.46" width="49.50" height="32.88" fill="#d9dbf8"/>
<rect x="342.00" y="999.46" width="49.50" height="32.88" fill="#fffcfc"/>
<rect x="391.20" y="999.46" width="49.50" height="32.88" fill="#dee0f8"/>
<rect x="440.40" y="999.46" width="49.20" height="32.88" fill="#ffc7c7"/>
<rect x="489.30" y="999.46" width="49.20" height="32.88" fill="#f0f0fc"/>
<rect x="538.20" y="999.46" width="49.20" height="32.88" fill="#f7f8fe"/>
<rect x="587.10" y="999.46" width="49.20" height="32.88" fill="#ff1919"/>
<rect x="636.00" y="999.46" width="49.20" height="32.88" fill="#d7d8f7"/>
<rect x="194.40" y="1032.04" width="49.50" height="32.88" fill="#cdcff5"/>
<rect x="243.60" y="1032.04" width="49.50" height="32.88" fill="#cdcff5"/>
<rect x="292.80" y="1032.04" width="49.50" height="32.88" fill="#c8caf4"/>
<rect x="342.00" y="1032.04" width="49.50" height="32.88" fill="#d2d3f6"/>
<rect x="391.20" y="1032.04" width="49.50" height="32.88" fill="#d2d3f6"/>
<rect x="440.40" y="1032.04" width="49.20" height="32.88" fill="#ff6e6e"/>
<rect x="489.30" y="1032.04" width="49.20" height="32.88" fill="#ffcccc"/>
<rect x="538.20" y="1032.04" width="49.20" height="32.88" fill="#fff5f5"/>
<rect x="587.10" y="1032.04" width="49.20" height="32.88" fill="#ffbfbf"/>
<rect x="636.00" y="1032.04" width="49.20" height="32.88" fill="#fff7f7"/>
<rect x="194.40" y="1064.62" width="49.50" height="32.88" fill="#cdcff5"/>
<rect x="243.60" y="1064.62" width="49.50" height="32.88" fill="#cdcff5"/>
<rect x="292.80" y="1064.62" width="49.50" height="32.88" fill="#c8caf4"/>
<rect x="342.00" y="1064.62" width="49.50" height="32.88" fill="#d2d3f6"/>
<rect x="391.20" y="1064.62" width="49.50" height="32.88" fill="#c8caf4"/>
<rect x="440.40" y="1064.62" width="49.20" height="32.88" fill="#ff8c8c"/>
<rect x="489.30" y="1064.62" width="49.20" height="32.88" fill="#ffdede"/>
<rect x="538.20" y="1064.62" width="49.20" height="32.88" fill="#ffe0e0"/>
<rect x="587.10" y="1064.62" width="49.20" height="32.88" fill="#ff9e9e"/>
<rect x="636.00" y="1064.62" width="49.20" height="32.88" fill="#f5f5fd"/>
<rect x="194.40" y="1097.20" width="49.50" height="32.88" fill="#cdcff5"/>
<rect x="243.60" y="1097.20" width="49.50" height="32.88" fill="#d7d8f7"/>
<rect x="292.80" y="1097.20" width="49.50" height="32.88" fill="#c8caf4"/>
<rect x="342.00" y="1097.20" width="49.50" height="32.88" fill="#d7d8f7"/>
<rect x="391.20" y="1097.20" width="49.50" height="32.88" fill="#d2d3f6"/>
<rect x="440.40" y="1097.20" width="49.20" height="32.88" fill="#ff8585"/>
<rect x="489.30" y="1097.20" width="49.20" height="32.88" fill="#ffe0e0"/>
<rect x="538.20" y="1097.20" width="49.20" height="32.88" fill="#ffeded"/>
<rect x="587.10" y="1097.20" width="49.20" height="32.88" fill="#ff8f8f"/>
<rect x="636.00" y="1097.20" width="49.20" height="32.88" fill="#ebecfb"/>
<rect x="194.40" y="1129.78" width="49.50" height="32.88" fill="#ebecfb"/>
<rect x="243.60" y="1129.78" width="49.50" height="32.88" fill="#f0f0fc"/>
<rect x="292.80" y="1129.78" width="49.50" height="32.88" fill="#c8caf4"/>
<rect x="342.00" y="1129.78" width="49.50" height="32.88" fill="#fcfdfe"/>
<rect x="391.20" y="1129.78" width="49.50" height="32.88" fill="#dee0f8"/>
<rect x="440.40" y="1129.78" width="49.20" height="32.88" fill="#ff7878"/>
<rect x="489.30" y="1129.78" width="49.20" height="32.88" fill="#fff7f7"/>
<rect x="538.20" y="1129.78" width="49.20" height="32.88" fill="#e1e2f9"/>
<rect x="587.10" y="1129.78" width="49.20" height="32.88" fill="#ff8c8c"/>
<rect x="636.00" y="1129.78" width="49.20" height="32.88" fill="#c0c2f2"/>
<rect x="194.40" y="1162.36" width="49.50" height="32.88" fill="#d2d3f6"/>
<rect x="243.60" y="1162.36" width="49.50" height="32.88" fill="#dee0f8"/>
<rect x="292.80" y="1162.36" width="49.50" height="32.88" fill="#d2d3f6"/>
<rect x="342.00" y="1162.36" width="49.50" height="32.88" fill="#e6e7fa"/>
<rect x="391.20" y="1162.36" width="49.50" height="32.88" fill="#d9dbf8"/>
<rect x="440.40" y="1162.36" width="49.20" height="32.88" fill="#ff8080"/>
<rect x="489.30" y="1162.36" width="49.20" height="32.88" fill="#ffeded"/>
<rect x="538.20" y="1162.36" width="49.20" height="32.88" fill="#fff5f5"/>
<rect x="587.10" y="1162.36" width="49.20" height="32.88" fill="#ff8585"/>
<rect x="636.00" y="1162.36" width="49.20" height="32.88" fill="#dee0f8"/>
<rect x="194.40" y="1194.94" width="49.50" height="32.88" fill="#d2d3f6"/>
<rect x="243.60" y="1194.94" width="49.50" height="32.88" fill="#d9dbf8"/>
<rect x="292.80" y="1194.94" width="49.50" height="32.88" fill="#d2d3f6"/>
<rect x="342.00" y="1194.94" width="49.50" height="32.88" fill="#e1e2f9"/>
<rect x="391.20" y="1194.94" width="49.50" height="32.88" fill="#cdcff5"/>
<rect x="440.40" y="1194.94" width="49.20" height="32.88" fill="#ffa6a6"/>
<rect x="489.30" y="1194.94" width="49.20" height="32.88" fill="#ffcccc"/>
<rect x="538.20" y="1194.94" width="49.20" height="32.88" fill="#ffebeb"/>
<rect x="587.10" y="1194.94" width="49.20" height="32.88" fill="#ff8080"/>
<rect x="636.00" y="1194.94" width="49.20" height="32.88" fill="#e6e7fa"/>
<line x1="194.40" y1="607.70" x2="684.90" y2="607.70" stroke="#000" stroke-width="2.2"/>
<line x1="194.40" y1="707.40" x2="684.90" y2="707.40" stroke="#000" stroke-width="2.2"/>
<line x1="440.85" y1="499.30" x2="440.85" y2="1227.52" stroke="#000" stroke-width="2.1" stroke-linecap="round"/>
<text x="691.6" y="633.8" font-size="26" font-style="italic">Jun</text>
<text x="691.6" y="663.8" font-size="26" font-style="italic">Spi1</text>
<text x="691.6" y="696.6" font-size="26" font-style="italic">Cebpb</text>
<text x="691.6" y="728.9" font-size="26" font-style="italic">Lgals3</text>
<text x="691.6" y="763.9" font-size="26" font-style="italic">Csf1r</text>
<text x="691.6" y="796.6" font-size="26" font-style="italic">Csf2rb2</text>
<text x="691.6" y="826.4" font-size="26" font-style="italic">Itgb2</text>
<text x="691.6" y="859.8" font-size="26" font-style="italic">Itgax</text>
<text x="691.6" y="891.8" font-size="26" font-style="italic">Itgam</text>
<text x="691.6" y="927.1" font-size="26" font-style="italic">Cd86</text>
<text x="691.6" y="959.5" font-size="26" font-style="italic">Il1b</text>
<text x="691.6" y="989.9" font-size="26" font-style="italic">Fcgr3</text>
<text x="691.6" y="1024.8" font-size="26" font-style="italic">Ciita</text>
<text x="691.6" y="1057.4" font-size="26" font-style="italic">Ctss</text>
<text x="691.6" y="1090.0" font-size="26" font-style="italic">Cd74</text>
<text x="691.6" y="1122.4" font-size="26" font-style="italic">H2-DMa</text>
<text x="691.6" y="1154.8" font-size="26" font-style="italic">H2-Ab1</text>
<text x="691.6" y="1187.4" font-size="26" font-style="italic">H2-Eb1</text>
<text x="691.6" y="1220.3" font-size="26" font-style="italic">Cd274</text>
<text x="189" y="526.3" font-size="26.5" text-anchor="end">cJunΔN</text>
<text x="189" y="560.6" font-size="26.5" text-anchor="end">sh_<tspan font-style="italic">Spi1</tspan></text>
<text x="188" y="594.3" font-size="26.5" text-anchor="end">sh_<tspan font-style="italic">Cebpb</tspan></text>
<text x="221.7" y="528.0" font-size="40" text-anchor="middle">-</text>
<text x="266.6" y="526.7" font-size="34" text-anchor="middle" stroke="#000" stroke-width="0.6">+</text>
<text x="317.5" y="528.0" font-size="40" text-anchor="middle">-</text>
<text x="366.5" y="528.0" font-size="40" text-anchor="middle">-</text>
<text x="416.5" y="526.7" font-size="34" text-anchor="middle" stroke="#000" stroke-width="0.6">+</text>
<text x="464.4" y="528.0" font-size="40" text-anchor="middle">-</text>
<text x="512.5" y="526.7" font-size="34" text-anchor="middle" stroke="#000" stroke-width="0.6">+</text>
<text x="562.3" y="528.0" font-size="40" text-anchor="middle">-</text>
<text x="611.5" y="528.0" font-size="40" text-anchor="middle">-</text>
<text x="661.0" y="526.7" font-size="34" text-anchor="middle" stroke="#000" stroke-width="0.6">+</text>
<text x="221.7" y="564.1" font-size="40" text-anchor="middle">-</text>
<text x="266.6" y="564.1" font-size="40" text-anchor="middle">-</text>
<text x="317.5" y="563.6" font-size="34" text-anchor="middle" stroke="#000" stroke-width="0.6">+</text>
<text x="366.5" y="564.1" font-size="40" text-anchor="middle">-</text>
<text x="416.5" y="563.6" font-size="34" text-anchor="middle" stroke="#000" stroke-width="0.6">+</text>
<text x="464.4" y="564.1" font-size="40" text-anchor="middle">-</text>
<text x="512.5" y="564.1" font-size="40" text-anchor="middle">-</text>
<text x="562.3" y="563.6" font-size="34" text-anchor="middle" stroke="#000" stroke-width="0.6">+</text>
<text x="611.5" y="564.1" font-size="40" text-anchor="middle">-</text>
<text x="661.0" y="563.6" font-size="34" text-anchor="middle" stroke="#000" stroke-width="0.6">+</text>
<text x="221.7" y="599.0" font-size="40" text-anchor="middle">-</text>
<text x="266.6" y="599.0" font-size="40" text-anchor="middle">-</text>
<text x="317.5" y="599.0" font-size="40" text-anchor="middle">-</text>
<text x="366.5" y="598.9" font-size="34" text-anchor="middle" stroke="#000" stroke-width="0.6">+</text>
<text x="416.5" y="598.9" font-size="34" text-anchor="middle" stroke="#000" stroke-width="0.6">+</text>
<text x="464.4" y="599.0" font-size="40" text-anchor="middle">-</text>
<text x="512.5" y="599.0" font-size="40" text-anchor="middle">-</text>
<text x="562.3" y="599.0" font-size="40" text-anchor="middle">-</text>
<text x="611.5" y="598.9" font-size="34" text-anchor="middle" stroke="#000" stroke-width="0.6">+</text>
<text x="661.0" y="598.9" font-size="34" text-anchor="middle" stroke="#000" stroke-width="0.6">+</text>
<text x="187.3" y="666.5" font-size="26" text-anchor="end">TF</text>
<text x="187.5" y="972.4" font-size="26.3" text-anchor="end">TF targets</text>
<line x1="208.50" y1="1239.30" x2="426.40" y2="1239.30" stroke="#000" stroke-width="2.2"/>
<line x1="452.80" y1="1239.30" x2="671.10" y2="1239.30" stroke="#000" stroke-width="2.2"/>
<text x="316.2" y="1264.9" font-size="26" text-anchor="middle">UT</text>
<text x="561.8" y="1264.9" font-size="26.5" text-anchor="middle">ADR</text>
<defs><linearGradient id="gc" x1="0" x2="1" y1="0" y2="0"><stop offset="0" stop-color="#0000e6"/><stop offset="0.03" stop-color="#1828e4"/><stop offset="0.1" stop-color="#5060e6"/><stop offset="0.2" stop-color="#8890ec"/><stop offset="0.33" stop-color="#b8bcf4"/><stop offset="0.44" stop-color="#e6e8fa"/><stop offset="0.5" stop-color="#ffffff"/><stop offset="0.57" stop-color="#ffeaea"/><stop offset="0.67" stop-color="#ffc2c2"/><stop offset="0.8" stop-color="#ff9494"/><stop offset="0.9" stop-color="#ff6262"/><stop offset="0.97" stop-color="#ff2222"/><stop offset="1" stop-color="#ff0000"/></linearGradient></defs>
<rect x="385.40" y="1279.20" width="109.10" height="45.20" fill="url(#gc)" stroke="#000" stroke-width="1.6"/>
<line x1="398.70" y1="1324.00" x2="398.70" y2="1334.00" stroke="#000" stroke-width="2"/>
<line x1="419.80" y1="1324.00" x2="419.80" y2="1334.00" stroke="#000" stroke-width="2"/>
<line x1="440.00" y1="1324.00" x2="440.00" y2="1334.00" stroke="#000" stroke-width="2"/>
<line x1="460.70" y1="1324.00" x2="460.70" y2="1334.00" stroke="#000" stroke-width="2"/>
<line x1="480.90" y1="1324.00" x2="480.90" y2="1334.00" stroke="#000" stroke-width="2"/>
<text x="400.5" y="1350.5" font-size="21" text-anchor="middle">-2</text>
<text x="441.3" y="1350.5" font-size="21" text-anchor="middle">0</text>
<text x="482.0" y="1350.5" font-size="21" text-anchor="middle">2</text>
<text x="386.5" y="1371.5" font-size="21.8">Row <tspan font-style="italic">Z</tspan>-score</text>
<text x="-1.6" y="528.2" font-size="54.5" font-weight="bold">c</text>
<line x1="1034.20" y1="604.00" x2="1034.20" y2="755.70" stroke="#c4c4c4" stroke-width="1" stroke-dasharray="1.1,2"/>
<line x1="1070.40" y1="604.00" x2="1070.40" y2="755.70" stroke="#c4c4c4" stroke-width="1" stroke-dasharray="1.1,2"/>
<line x1="1106.40" y1="604.00" x2="1106.40" y2="755.70" stroke="#c4c4c4" stroke-width="1" stroke-dasharray="1.1,2"/>
<line x1="1142.40" y1="604.00" x2="1142.40" y2="755.70" stroke="#c4c4c4" stroke-width="1" stroke-dasharray="1.1,2"/>
<line x1="1178.50" y1="604.00" x2="1178.50" y2="755.70" stroke="#c4c4c4" stroke-width="1" stroke-dasharray="1.1,2"/>
<line x1="1214.60" y1="604.00" x2="1214.60" y2="755.70" stroke="#c4c4c4" stroke-width="1" stroke-dasharray="1.1,2"/>
<line x1="1250.60" y1="604.00" x2="1250.60" y2="755.70" stroke="#c4c4c4" stroke-width="1" stroke-dasharray="1.1,2"/>
<line x1="1286.60" y1="604.00" x2="1286.60" y2="755.70" stroke="#c4c4c4" stroke-width="1" stroke-dasharray="1.1,2"/>
<line x1="1322.60" y1="604.00" x2="1322.60" y2="755.70" stroke="#c4c4c4" stroke-width="1" stroke-dasharray="1.1,2"/>
<line x1="998.50" y1="618.10" x2="1335.30" y2="618.10" stroke="#b4b4b4" stroke-width="1.3"/>
<text x="995.6" y="625.2" font-size="22" text-anchor="end">0.0</text>
<line x1="998.50" y1="639.30" x2="1335.30" y2="639.30" stroke="#c4c4c4" stroke-width="1" stroke-dasharray="1.1,2"/>
<text x="995.6" y="646.4" font-size="22" text-anchor="end">-0.1</text>
<line x1="998.50" y1="660.50" x2="1335.30" y2="660.50" stroke="#c4c4c4" stroke-width="1" stroke-dasharray="1.1,2"/>
<text x="995.6" y="667.6" font-size="22" text-anchor="end">-0.2</text>
<line x1="998.50" y1="681.70" x2="1335.30" y2="681.70" stroke="#c4c4c4" stroke-width="1" stroke-dasharray="1.1,2"/>
<text x="995.6" y="688.8" font-size="22" text-anchor="end">-0.3</text>
<line x1="998.50" y1="702.90" x2="1335.30" y2="702.90" stroke="#c4c4c4" stroke-width="1" stroke-dasharray="1.1,2"/>
<text x="995.6" y="710.0" font-size="22" text-anchor="end">-0.4</text>
<line x1="998.50" y1="724.10" x2="1335.30" y2="724.10" stroke="#c4c4c4" stroke-width="1" stroke-dasharray="1.1,2"/>
<text x="995.6" y="731.2" font-size="22" text-anchor="end">-0.5</text>
<line x1="998.50" y1="745.30" x2="1335.30" y2="745.30" stroke="#c4c4c4" stroke-width="1" stroke-dasharray="1.1,2"/>
<text x="995.6" y="752.4" font-size="22" text-anchor="end">-0.6</text>
<line x1="1002.20" y1="757.50" x2="1002.20" y2="807.00" stroke="#111" stroke-width="1.2"/>
<line x1="1005.50" y1="757.50" x2="1005.50" y2="807.00" stroke="#111" stroke-width="1.2"/>
<line x1="1008.30" y1="757.50" x2="1008.30" y2="807.00" stroke="#111" stroke-width="1.2"/>
<line x1="1015.80" y1="757.50" x2="1015.80" y2="807.00" stroke="#8a8a8a" stroke-width="1.2"/>
<rect x="1024.70" y="757.50" width="2.20" height="49.50" fill="#8a8a8a"/>
<line x1="1028.40" y1="757.50" x2="1028.40" y2="807.00" stroke="#111" stroke-width="1.2"/>
<line x1="1030.50" y1="757.50" x2="1030.50" y2="807.00" stroke="#111" stroke-width="1.2"/>
<line x1="1031.90" y1="757.50" x2="1031.90" y2="807.00" stroke="#8a8a8a" stroke-width="1.2"/>
<line x1="1035.00" y1="757.50" x2="1035.00" y2="807.00" stroke="#8a8a8a" stroke-width="1.2"/>
<rect x="1041.80" y="757.50" width="3.10" height="49.50" fill="#333"/>
<line x1="1048.50" y1="757.50" x2="1048.50" y2="807.00" stroke="#111" stroke-width="1.2"/>
<rect x="1057.00" y="757.50" width="2.80" height="49.50" fill="#8a8a8a"/>
<line x1="1062.50" y1="757.50" x2="1062.50" y2="807.00" stroke="#111" stroke-width="1.2"/>
<line x1="1067.60" y1="757.50" x2="1067.60" y2="807.00" stroke="#8a8a8a" stroke-width="1.2"/>
<rect x="1071.20" y="757.50" width="1.40" height="49.50" fill="#111"/>
<line x1="1074.40" y1="757.50" x2="1074.40" y2="807.00" stroke="#111" stroke-width="1.2"/>
<line x1="1077.30" y1="757.50" x2="1077.30" y2="807.00" stroke="#111" stroke-width="1.2"/>
<line x1="1096.50" y1="757.50" x2="1096.50" y2="807.00" stroke="#111" stroke-width="1.2"/>
<line x1="1099.40" y1="757.50" x2="1099.40" y2="807.00" stroke="#111" stroke-width="1.2"/>
<line x1="1111.50" y1="757.50" x2="1111.50" y2="807.00" stroke="#8a8a8a" stroke-width="1.2"/>
<rect x="1125.50" y="757.50" width="3.10" height="49.50" fill="#8a8a8a"/>
<line x1="1133.40" y1="757.50" x2="1133.40" y2="807.00" stroke="#111" stroke-width="1.2"/>
<line x1="1136.30" y1="757.50" x2="1136.30" y2="807.00" stroke="#111" stroke-width="1.2"/>
<line x1="1138.30" y1="757.50" x2="1138.30" y2="807.00" stroke="#111" stroke-width="1.2"/>
<line x1="1160.40" y1="757.50" x2="1160.40" y2="807.00" stroke="#111" stroke-width="1.2"/>
<line x1="1172.40" y1="757.50" x2="1172.40" y2="807.00" stroke="#333" stroke-width="1.2"/>
<line x1="1180.90" y1="757.50" x2="1180.90" y2="807.00" stroke="#111" stroke-width="1.2"/>
<line x1="1197.40" y1="757.50" x2="1197.40" y2="807.00" stroke="#8a8a8a" stroke-width="1.2"/>
<line x1="1217.40" y1="757.50" x2="1217.40" y2="807.00" stroke="#111" stroke-width="1.2"/>
<line x1="1223.50" y1="757.50" x2="1223.50" y2="807.00" stroke="#111" stroke-width="1.2"/>
<line x1="1228.70" y1="757.50" x2="1228.70" y2="807.00" stroke="#8a8a8a" stroke-width="1.2"/>
<line x1="1233.40" y1="757.50" x2="1233.40" y2="807.00" stroke="#8a8a8a" stroke-width="1.2"/>
<line x1="1238.50" y1="757.50" x2="1238.50" y2="807.00" stroke="#111" stroke-width="1.2"/>
<rect x="1241.50" y="757.50" width="3.10" height="49.50" fill="#8a8a8a"/>
<line x1="1247.30" y1="757.50" x2="1247.30" y2="807.00" stroke="#111" stroke-width="1.2"/>
<line x1="1250.30" y1="757.50" x2="1250.30" y2="807.00" stroke="#111" stroke-width="1.2"/>
<line x1="1255.70" y1="757.50" x2="1255.70" y2="807.00" stroke="#111" stroke-width="1.2"/>
<rect x="1259.00" y="757.50" width="2.70" height="49.50" fill="#555"/>
<line x1="1264.40" y1="757.50" x2="1264.40" y2="807.00" stroke="#111" stroke-width="1.2"/>
<line x1="1266.50" y1="757.50" x2="1266.50" y2="807.00" stroke="#8a8a8a" stroke-width="1.2"/>
<line x1="1270.30" y1="757.50" x2="1270.30" y2="807.00" stroke="#111" stroke-width="1.2"/>
<rect x="1272.00" y="757.50" width="2.80" height="49.50" fill="#111"/>
<rect x="1276.10" y="757.50" width="7.20" height="49.50" fill="#2c2c2c"/>
<rect x="1285.10" y="757.50" width="4.50" height="49.50" fill="#444"/>
<line x1="1291.60" y1="757.50" x2="1291.60" y2="807.00" stroke="#8a8a8a" stroke-width="1.2"/>
<rect x="1294.60" y="757.50" width="3.10" height="49.50" fill="#333"/>
<rect x="1298.10" y="757.50" width="11.80" height="49.50" fill="#000"/>
<rect x="1311.20" y="757.50" width="5.40" height="49.50" fill="#3a3a3a"/>
<line x1="1318.90" y1="757.50" x2="1318.90" y2="807.00" stroke="#8a8a8a" stroke-width="1.2"/>
<rect x="998.30" y="807.00" width="8.90" height="12.60" fill="#e84444"/>
<rect x="1007.00" y="807.00" width="37.20" height="12.60" fill="#ff5a5a"/>
<rect x="1044.00" y="807.00" width="18.60" height="12.60" fill="#ff6c7c"/>
<rect x="1062.40" y="807.00" width="29.80" height="12.60" fill="#ff8888"/>
<rect x="1092.00" y="807.00" width="54.80" height="12.60" fill="#ffbde2"/>
<rect x="1146.60" y="807.00" width="64.60" height="12.60" fill="#d4d4fa"/>
<rect x="1211.00" y="807.00" width="34.20" height="12.60" fill="#c4bef8"/>
<rect x="1245.00" y="807.00" width="18.00" height="12.60" fill="#8888fc"/>
<rect x="1262.80" y="807.00" width="44.20" height="12.60" fill="#6a58e8"/>
<rect x="1306.80" y="807.00" width="9.60" height="12.60" fill="#2a00d8"/>
<rect x="1316.20" y="807.00" width="3.00" height="12.60" fill="#4a10b0"/>
<line x1="998.50" y1="604.00" x2="998.50" y2="819.60" stroke="#a8a8a8" stroke-width="1.2"/>
<line x1="1335.30" y1="604.00" x2="1335.30" y2="819.60" stroke="#a8a8a8" stroke-width="1.2"/>
<line x1="998.50" y1="755.70" x2="1335.30" y2="755.70" stroke="#b8b8b8" stroke-width="1.5"/>
<line x1="1319.00" y1="807.00" x2="1335.30" y2="807.00" stroke="#b8b8b8" stroke-width="1.3"/>
<polyline points="998.8,618.1 999.8,618.7 1000.7,619.4 1001.7,621.3 1002.6,619.1 1003.5,618.7 1004.3,617.2 1005.2,615.5 1006.4,616.9 1007.5,616.7 1007.7,616.2 1007.9,614.3 1008.1,613.2 1008.3,612.6 1008.5,612.1 1008.7,609.6 1009.9,610.4 1011.0,611.8 1012.2,613.0 1013.4,612.9 1014.5,613.2 1015.7,614.9 1016.8,613.8 1017.9,615.8 1019.0,615.4 1020.1,615.7 1021.1,616.2 1022.2,617.2 1023.3,618.7 1024.4,618.1 1025.8,618.4 1027.1,618.2 1028.5,617.3 1030.0,617.7 1031.5,617.0 1032.9,617.2 1034.4,617.6 1035.6,619.1 1036.7,619.3 1037.9,619.8 1039.1,621.0 1040.2,621.4 1041.4,621.8 1042.9,622.9 1044.3,622.9 1045.8,622.4 1047.2,622.9 1048.2,623.5 1049.3,624.4 1050.3,624.9 1051.3,625.2 1052.4,626.4 1053.4,626.4 1054.4,627.2 1055.5,628.2 1056.5,628.3 1057.7,629.0 1058.9,629.0 1060.0,629.9 1061.2,630.4 1062.4,630.7 1063.6,631.5 1064.7,631.5 1065.9,632.4 1067.1,632.9 1068.2,633.4 1069.4,633.9 1070.5,634.7 1071.7,635.4 1072.9,635.6 1074.0,636.3 1075.2,636.4 1076.4,637.5 1077.5,638.0 1078.7,638.9 1079.7,639.5 1080.8,639.8 1081.8,640.6 1082.8,641.6 1083.8,641.8 1084.8,642.9 1085.9,643.3 1086.9,644.0 1087.9,644.7 1089.0,646.0 1090.0,646.2 1091.0,647.1 1092.0,647.9 1093.0,649.0 1094.1,649.1 1095.1,650.2 1096.2,651.0 1097.2,652.0 1098.3,652.7 1099.3,653.5 1100.4,653.7 1101.4,654.6 1102.5,655.3 1103.5,656.5 1104.6,657.3 1105.6,657.4 1106.7,658.1 1107.8,658.8 1108.8,659.5 1109.9,660.4 1111.0,661.1 1112.0,661.5 1113.1,662.0 1114.1,663.0 1115.2,663.6 1116.3,664.4 1117.3,665.4 1118.4,665.9 1119.5,666.4 1120.5,667.1 1121.6,667.8 1122.7,668.0 1123.7,669.3 1124.8,669.9 1125.8,670.6 1126.9,671.3 1128.0,671.6 1129.0,672.3 1130.1,672.7 1131.2,673.8 1132.2,674.0 1133.3,674.7 1134.3,675.5 1135.4,676.1 1136.4,677.0 1137.5,677.4 1138.5,678.0 1139.6,678.9 1140.6,679.5 1141.7,680.4 1142.7,680.8 1143.7,682.1 1144.8,682.5 1145.8,682.8 1146.8,683.5 1147.8,684.3 1148.8,684.9 1149.8,685.4 1150.8,686.6 1151.9,687.4 1152.9,687.6 1153.9,688.3 1154.9,688.6 1155.9,689.3 1157.0,690.1 1158.0,690.7 1159.0,691.8 1160.0,691.9 1161.0,692.5 1162.1,693.9 1163.1,694.3 1164.2,694.6 1165.2,695.7 1166.2,695.9 1167.3,697.0 1168.3,698.1 1169.3,698.6 1170.4,699.2 1171.4,699.5 1172.5,700.3 1173.5,700.8 1174.5,702.0 1175.6,702.5 1176.6,703.4 1177.7,703.7 1178.7,704.3 1179.7,705.4 1180.8,706.2 1181.8,706.8 1182.9,707.5 1183.9,708.1 1184.9,708.8 1186.0,709.0 1187.0,709.9 1188.1,710.5 1189.1,710.9 1190.1,711.6 1191.2,712.5 1192.2,713.1 1193.2,714.1 1194.3,715.0 1195.3,715.3 1196.4,716.4 1197.4,717.1 1198.4,717.7 1199.4,717.9 1200.5,718.4 1201.5,719.1 1202.5,719.7 1203.5,720.4 1204.5,721.4 1205.6,722.3 1206.6,722.9 1207.6,723.2 1208.6,724.0 1209.6,724.8 1210.6,724.9 1211.7,726.0 1212.7,726.9 1213.7,727.4 1214.9,728.1 1216.0,728.5 1217.2,728.9 1218.3,730.1 1219.5,730.4 1220.7,731.4 1221.8,732.2 1223.0,732.4 1224.1,733.0 1225.2,734.1 1226.3,734.5 1227.3,734.7 1228.4,735.3 1229.5,735.9 1230.6,737.2 1231.7,737.7 1232.8,737.8 1233.9,739.0 1234.9,739.7 1236.0,740.1 1237.1,740.5 1238.2,741.2 1239.4,741.3 1240.5,741.5 1241.7,742.6 1242.9,742.7 1244.1,743.0 1245.2,743.7 1246.4,743.6 1247.6,744.3 1248.7,744.6 1249.9,744.5 1251.1,744.8 1252.2,745.2 1253.4,745.5 1254.6,746.1 1255.7,746.2 1256.9,746.6 1258.1,746.7 1259.2,747.7 1260.4,747.6 1261.7,747.8 1263.1,748.2 1264.4,748.9 1265.7,748.2 1267.0,749.2 1268.4,748.6 1269.7,748.9 1271.1,748.5 1272.4,747.2 1273.8,747.6 1274.5,746.0 1275.2,744.6 1275.8,745.0 1276.5,742.8 1277.2,742.2 1277.9,741.6 1278.7,740.3 1279.5,739.0 1280.2,738.3 1281.0,737.4 1281.8,736.9 1282.6,734.7 1283.5,734.6 1284.3,733.2 1285.2,732.4 1286.1,732.4 1286.5,730.7 1286.9,729.7 1287.3,728.9 1287.8,728.0 1288.2,725.9 1288.6,725.1 1289.0,723.7 1290.2,724.1 1291.3,724.8 1292.5,724.7 1293.6,725.2 1294.8,725.5 1295.1,725.0 1295.4,723.3 1295.7,722.4 1296.0,721.2 1296.3,718.7 1296.6,718.0 1296.8,717.4 1297.1,716.0 1297.3,713.4 1297.5,712.1 1297.8,711.4 1298.0,709.5 1298.2,708.5 1298.4,706.9 1298.7,706.7 1298.9,705.6 1299.1,704.5 1299.2,701.8 1299.4,701.5 1299.6,700.0 1299.8,697.7 1299.9,697.7 1300.1,696.5 1300.4,694.0 1300.7,694.2 1301.1,692.0 1301.4,691.0 1301.7,690.7 1302.0,689.3 1302.4,686.9 1302.7,686.2 1303.0,685.2 1303.3,683.7 1303.7,682.3 1304.0,681.4 1304.3,680.9 1304.6,678.5 1305.0,678.3 1305.3,676.9 1305.6,674.8 1305.8,674.0 1306.1,673.2 1306.3,671.7 1306.6,669.6 1306.8,669.9 1307.1,668.2 1307.2,667.3 1307.4,664.5 1307.5,663.5 1307.7,661.8 1307.8,661.9 1307.9,659.7 1308.1,658.2 1308.2,657.4 1308.4,657.0 1308.5,655.6 1308.7,653.3 1308.8,651.9 1309.1,651.9 1309.4,649.9 1309.7,648.8 1310.0,646.4 1310.3,645.0 1310.6,644.7 1311.0,643.1 1311.4,641.3 1311.8,641.7 1312.1,640.0 1312.5,639.1 1312.9,636.7 1313.5,637.0 1314.1,634.5 1314.6,634.9 1315.2,633.1 1315.8,631.8 1315.9,630.8 1316.0,630.1 1316.2,627.5 1316.3,625.8 1316.4,625.1 1317.6,625.2 1318.8,626.3 1318.8,624.3 1318.9,623.2 1318.9,621.7 1318.9,620.7 1318.9,619.7 1319.0,618.4 1319.0,617.5" fill="none" stroke="#0cf40c" stroke-width="2.2" stroke-linejoin="round"/>
<text x="1165.9" y="599.9" font-size="30" text-anchor="middle">Mφ vs. B up</text>
<text x="1004.6" y="709.6" font-size="25.6" textLength="139.5" lengthAdjust="spacingAndGlyphs">NES = -2.07</text>
<text x="1004.6" y="741.2" font-size="25.6" textLength="142.9" lengthAdjust="spacingAndGlyphs">FDR &lt; 0.001</text>
<text x="0" y="0" font-size="26.3" text-anchor="middle" textLength="196" lengthAdjust="spacingAndGlyphs" transform="translate(948.3,680.4) rotate(-90)">enrichment score</text>
<line x1="1034.20" y1="858.20" x2="1034.20" y2="1010.40" stroke="#c4c4c4" stroke-width="1" stroke-dasharray="1.1,2"/>
<line x1="1070.40" y1="858.20" x2="1070.40" y2="1010.40" stroke="#c4c4c4" stroke-width="1" stroke-dasharray="1.1,2"/>
<line x1="1106.40" y1="858.20" x2="1106.40" y2="1010.40" stroke="#c4c4c4" stroke-width="1" stroke-dasharray="1.1,2"/>
<line x1="1142.40" y1="858.20" x2="1142.40" y2="1010.40" stroke="#c4c4c4" stroke-width="1" stroke-dasharray="1.1,2"/>
<line x1="1178.50" y1="858.20" x2="1178.50" y2="1010.40" stroke="#c4c4c4" stroke-width="1" stroke-dasharray="1.1,2"/>
<line x1="1214.60" y1="858.20" x2="1214.60" y2="1010.40" stroke="#c4c4c4" stroke-width="1" stroke-dasharray="1.1,2"/>
<line x1="1250.60" y1="858.20" x2="1250.60" y2="1010.40" stroke="#c4c4c4" stroke-width="1" stroke-dasharray="1.1,2"/>
<line x1="1286.60" y1="858.20" x2="1286.60" y2="1010.40" stroke="#c4c4c4" stroke-width="1" stroke-dasharray="1.1,2"/>
<line x1="1322.60" y1="858.20" x2="1322.60" y2="1010.40" stroke="#c4c4c4" stroke-width="1" stroke-dasharray="1.1,2"/>
<line x1="998.50" y1="879.30" x2="1335.30" y2="879.30" stroke="#b4b4b4" stroke-width="1.3"/>
<text x="995.6" y="886.4" font-size="22" text-anchor="end">0.0</text>
<line x1="998.50" y1="902.70" x2="1335.30" y2="902.70" stroke="#c4c4c4" stroke-width="1" stroke-dasharray="1.1,2"/>
<text x="995.6" y="909.8" font-size="22" text-anchor="end">-0.1</text>
<line x1="998.50" y1="926.10" x2="1335.30" y2="926.10" stroke="#c4c4c4" stroke-width="1" stroke-dasharray="1.1,2"/>
<text x="995.6" y="933.2" font-size="22" text-anchor="end">-0.2</text>
<line x1="998.50" y1="949.50" x2="1335.30" y2="949.50" stroke="#c4c4c4" stroke-width="1" stroke-dasharray="1.1,2"/>
<text x="995.6" y="956.6" font-size="22" text-anchor="end">-0.3</text>
<line x1="998.50" y1="972.90" x2="1335.30" y2="972.90" stroke="#c4c4c4" stroke-width="1" stroke-dasharray="1.1,2"/>
<text x="995.6" y="980.0" font-size="22" text-anchor="end">-0.4</text>
<line x1="998.50" y1="996.30" x2="1335.30" y2="996.30" stroke="#c4c4c4" stroke-width="1" stroke-dasharray="1.1,2"/>
<text x="995.6" y="1003.4" font-size="22" text-anchor="end">-0.5</text>
<line x1="1002.30" y1="1012.20" x2="1002.30" y2="1061.00" stroke="#111" stroke-width="1.2"/>
<rect x="1004.90" y="1012.20" width="2.00" height="48.80" fill="#111"/>
<line x1="1008.50" y1="1012.20" x2="1008.50" y2="1061.00" stroke="#111" stroke-width="1.2"/>
<line x1="1016.30" y1="1012.20" x2="1016.30" y2="1061.00" stroke="#8a8a8a" stroke-width="1.2"/>
<line x1="1024.70" y1="1012.20" x2="1024.70" y2="1061.00" stroke="#8a8a8a" stroke-width="1.2"/>
<line x1="1026.50" y1="1012.20" x2="1026.50" y2="1061.00" stroke="#111" stroke-width="1.2"/>
<line x1="1028.70" y1="1012.20" x2="1028.70" y2="1061.00" stroke="#111" stroke-width="1.2"/>
<line x1="1031.90" y1="1012.20" x2="1031.90" y2="1061.00" stroke="#8a8a8a" stroke-width="1.2"/>
<line x1="1033.20" y1="1012.20" x2="1033.20" y2="1061.00" stroke="#8a8a8a" stroke-width="1.2"/>
<line x1="1035.50" y1="1012.20" x2="1035.50" y2="1061.00" stroke="#111" stroke-width="1.2"/>
<line x1="1038.20" y1="1012.20" x2="1038.20" y2="1061.00" stroke="#111" stroke-width="1.2"/>
<line x1="1041.50" y1="1012.20" x2="1041.50" y2="1061.00" stroke="#111" stroke-width="1.2"/>
<line x1="1049.40" y1="1012.20" x2="1049.40" y2="1061.00" stroke="#111" stroke-width="1.2"/>
<line x1="1051.20" y1="1012.20" x2="1051.20" y2="1061.00" stroke="#111" stroke-width="1.2"/>
<line x1="1053.90" y1="1012.20" x2="1053.90" y2="1061.00" stroke="#111" stroke-width="1.2"/>
<line x1="1056.40" y1="1012.20" x2="1056.40" y2="1061.00" stroke="#111" stroke-width="1.2"/>
<line x1="1058.60" y1="1012.20" x2="1058.60" y2="1061.00" stroke="#111" stroke-width="1.2"/>
<line x1="1067.60" y1="1012.20" x2="1067.60" y2="1061.00" stroke="#8a8a8a" stroke-width="1.2"/>
<rect x="1069.70" y="1012.20" width="1.80" height="48.80" fill="#111"/>
<line x1="1075.50" y1="1012.20" x2="1075.50" y2="1061.00" stroke="#111" stroke-width="1.2"/>
<line x1="1082.50" y1="1012.20" x2="1082.50" y2="1061.00" stroke="#333" stroke-width="1.2"/>
<line x1="1084.50" y1="1012.20" x2="1084.50" y2="1061.00" stroke="#8a8a8a" stroke-width="1.2"/>
<line x1="1092.60" y1="1012.20" x2="1092.60" y2="1061.00" stroke="#111" stroke-width="1.2"/>
<line x1="1094.40" y1="1012.20" x2="1094.40" y2="1061.00" stroke="#111" stroke-width="1.2"/>
<line x1="1097.10" y1="1012.20" x2="1097.10" y2="1061.00" stroke="#111" stroke-width="1.2"/>
<line x1="1099.50" y1="1012.20" x2="1099.50" y2="1061.00" stroke="#111" stroke-width="1.2"/>
<line x1="1110.40" y1="1012.20" x2="1110.40" y2="1061.00" stroke="#111" stroke-width="1.2"/>
<line x1="1114.00" y1="1012.20" x2="1114.00" y2="1061.00" stroke="#8a8a8a" stroke-width="1.2"/>
<line x1="1116.50" y1="1012.20" x2="1116.50" y2="1061.00" stroke="#111" stroke-width="1.2"/>
<line x1="1118.50" y1="1012.20" x2="1118.50" y2="1061.00" stroke="#8a8a8a" stroke-width="1.2"/>
<line x1="1127.90" y1="1012.20" x2="1127.90" y2="1061.00" stroke="#8a8a8a" stroke-width="1.2"/>
<line x1="1131.60" y1="1012.20" x2="1131.60" y2="1061.00" stroke="#111" stroke-width="1.2"/>
<line x1="1133.70" y1="1012.20" x2="1133.70" y2="1061.00" stroke="#111" stroke-width="1.2"/>
<line x1="1136.30" y1="1012.20" x2="1136.30" y2="1061.00" stroke="#111" stroke-width="1.2"/>
<line x1="1138.50" y1="1012.20" x2="1138.50" y2="1061.00" stroke="#111" stroke-width="1.2"/>
<line x1="1150.20" y1="1012.20" x2="1150.20" y2="1061.00" stroke="#8a8a8a" stroke-width="1.2"/>
<line x1="1152.00" y1="1012.20" x2="1152.00" y2="1061.00" stroke="#8a8a8a" stroke-width="1.2"/>
<line x1="1155.90" y1="1012.20" x2="1155.90" y2="1061.00" stroke="#8a8a8a" stroke-width="1.2"/>
<line x1="1160.40" y1="1012.20" x2="1160.40" y2="1061.00" stroke="#111" stroke-width="1.2"/>
<line x1="1165.30" y1="1012.20" x2="1165.30" y2="1061.00" stroke="#111" stroke-width="1.2"/>
<line x1="1167.60" y1="1012.20" x2="1167.60" y2="1061.00" stroke="#8a8a8a" stroke-width="1.2"/>
<rect x="1170.40" y="1012.20" width="2.20" height="48.80" fill="#555"/>
<line x1="1179.50" y1="1012.20" x2="1179.50" y2="1061.00" stroke="#111" stroke-width="1.2"/>
<line x1="1183.60" y1="1012.20" x2="1183.60" y2="1061.00" stroke="#111" stroke-width="1.2"/>
<line x1="1186.10" y1="1012.20" x2="1186.10" y2="1061.00" stroke="#8a8a8a" stroke-width="1.2"/>
<line x1="1211.50" y1="1012.20" x2="1211.50" y2="1061.00" stroke="#111" stroke-width="1.2"/>
<rect x="1213.10" y="1012.20" width="2.30" height="48.80" fill="#8a8a8a"/>
<line x1="1218.10" y1="1012.20" x2="1218.10" y2="1061.00" stroke="#8a8a8a" stroke-width="1.2"/>
<line x1="1222.60" y1="1012.20" x2="1222.60" y2="1061.00" stroke="#111" stroke-width="1.2"/>
<line x1="1225.40" y1="1012.20" x2="1225.40" y2="1061.00" stroke="#111" stroke-width="1.2"/>
<rect x="1228.90" y="1012.20" width="2.70" height="48.80" fill="#8a8a8a"/>
<line x1="1235.40" y1="1012.20" x2="1235.40" y2="1061.00" stroke="#111" stroke-width="1.2"/>
<line x1="1238.80" y1="1012.20" x2="1238.80" y2="1061.00" stroke="#8a8a8a" stroke-width="1.2"/>
<rect x="1240.60" y="1012.20" width="2.00" height="48.80" fill="#333"/>
<line x1="1248.70" y1="1012.20" x2="1248.70" y2="1061.00" stroke="#111" stroke-width="1.2"/>
<line x1="1251.40" y1="1012.20" x2="1251.40" y2="1061.00" stroke="#111" stroke-width="1.2"/>
<rect x="1253.20" y="1012.20" width="2.20" height="48.80" fill="#555"/>
<line x1="1257.70" y1="1012.20" x2="1257.70" y2="1061.00" stroke="#111" stroke-width="1.2"/>
<rect x="1260.40" y="1012.20" width="2.70" height="48.80" fill="#111"/>
<line x1="1264.40" y1="1012.20" x2="1264.40" y2="1061.00" stroke="#111" stroke-width="1.2"/>
<rect x="1266.20" y="1012.20" width="2.30" height="48.80" fill="#8a8a8a"/>
<line x1="1272.50" y1="1012.20" x2="1272.50" y2="1061.00" stroke="#8a8a8a" stroke-width="1.2"/>
<rect x="1274.30" y="1012.20" width="5.40" height="48.80" fill="#222"/>
<line x1="1281.50" y1="1012.20" x2="1281.50" y2="1061.00" stroke="#111" stroke-width="1.2"/>
<line x1="1283.30" y1="1012.20" x2="1283.30" y2="1061.00" stroke="#111" stroke-width="1.2"/>
<rect x="1285.60" y="1012.20" width="5.80" height="48.80" fill="#080808"/>
<line x1="1292.30" y1="1012.20" x2="1292.30" y2="1061.00" stroke="#111" stroke-width="1.2"/>
<rect x="1294.10" y="1012.20" width="2.70" height="48.80" fill="#111"/>
<rect x="1298.60" y="1012.20" width="5.40" height="48.80" fill="#111"/>
<line x1="1304.90" y1="1012.20" x2="1304.90" y2="1061.00" stroke="#8a8a8a" stroke-width="1.2"/>
<rect x="1306.30" y="1012.20" width="6.70" height="48.80" fill="#111"/>
<line x1="1314.40" y1="1012.20" x2="1314.40" y2="1061.00" stroke="#111" stroke-width="1.2"/>
<line x1="1316.40" y1="1012.20" x2="1316.40" y2="1061.00" stroke="#111" stroke-width="1.2"/>
<rect x="998.30" y="1061.00" width="8.90" height="12.60" fill="#e84444"/>
<rect x="1007.00" y="1061.00" width="37.20" height="12.60" fill="#ff5a5a"/>
<rect x="1044.00" y="1061.00" width="18.60" height="12.60" fill="#ff6c7c"/>
<rect x="1062.40" y="1061.00" width="29.80" height="12.60" fill="#ff8888"/>
<rect x="1092.00" y="1061.00" width="54.80" height="12.60" fill="#ffbde2"/>
<rect x="1146.60" y="1061.00" width="64.60" height="12.60" fill="#d4d4fa"/>
<rect x="1211.00" y="1061.00" width="34.20" height="12.60" fill="#c4bef8"/>
<rect x="1245.00" y="1061.00" width="18.00" height="12.60" fill="#8888fc"/>
<rect x="1262.80" y="1061.00" width="44.20" height="12.60" fill="#6a58e8"/>
<rect x="1306.80" y="1061.00" width="9.60" height="12.60" fill="#2a00d8"/>
<rect x="1316.20" y="1061.00" width="3.00" height="12.60" fill="#4a10b0"/>
<line x1="998.50" y1="858.20" x2="998.50" y2="1073.60" stroke="#a8a8a8" stroke-width="1.2"/>
<line x1="1335.30" y1="858.20" x2="1335.30" y2="1073.60" stroke="#a8a8a8" stroke-width="1.2"/>
<line x1="998.50" y1="1010.40" x2="1335.30" y2="1010.40" stroke="#b8b8b8" stroke-width="1.5"/>
<line x1="1319.00" y1="1061.00" x2="1335.30" y2="1061.00" stroke="#b8b8b8" stroke-width="1.3"/>
<polyline points="998.5,879.3 999.4,880.6 1000.2,880.6 1001.0,881.9 1001.9,882.1 1002.1,881.1 1002.2,879.2 1002.4,878.3 1003.5,878.7 1004.7,880.8 1004.9,879.3 1005.1,877.5 1005.3,876.8 1005.5,876.4 1005.6,873.7 1005.8,873.8 1006.0,872.0 1006.2,870.9 1006.4,870.3 1007.0,868.2 1007.5,867.2 1008.1,866.2 1008.7,865.5 1009.7,865.0 1010.8,866.5 1011.8,866.9 1012.9,867.4 1013.9,867.6 1015.0,868.2 1016.0,868.3 1017.1,869.2 1018.3,869.8 1019.4,871.7 1020.5,871.6 1021.6,872.1 1022.8,872.7 1023.9,874.8 1025.0,874.4 1026.2,873.6 1027.3,872.5 1028.5,872.0 1029.6,871.6 1030.9,872.0 1032.2,871.5 1033.5,872.1 1034.7,871.9 1036.0,873.2 1037.3,873.3 1038.6,872.6 1039.7,872.6 1040.9,874.5 1042.0,873.9 1043.1,874.6 1044.3,874.6 1045.4,876.1 1046.5,876.8 1047.7,877.5 1048.8,878.0 1050.1,878.5 1051.4,878.4 1052.7,879.0 1053.9,879.1 1055.2,879.7 1056.5,879.7 1057.8,880.0 1058.9,880.9 1060.1,881.6 1061.2,882.6 1062.3,883.2 1063.5,884.1 1064.6,884.7 1065.7,885.5 1066.9,886.3 1068.0,886.6 1069.3,886.8 1070.6,887.7 1072.0,887.3 1073.3,888.0 1074.6,888.2 1075.9,888.0 1077.0,889.4 1078.2,890.1 1079.3,890.6 1080.4,891.4 1081.5,892.2 1082.7,892.4 1083.8,893.4 1084.9,894.1 1086.1,895.1 1087.2,895.8 1088.4,896.6 1089.5,897.1 1090.7,898.1 1091.8,898.6 1092.9,899.2 1094.0,899.4 1095.2,899.8 1096.3,900.5 1097.4,901.2 1098.5,901.6 1099.5,902.9 1100.4,903.5 1101.4,904.3 1102.4,905.1 1103.4,905.9 1104.3,906.5 1105.3,906.9 1106.3,908.3 1107.2,909.0 1108.2,909.6 1109.2,910.4 1110.2,911.3 1111.1,911.6 1112.1,912.9 1113.1,913.2 1114.0,913.8 1115.0,914.7 1116.0,915.8 1117.0,916.1 1117.9,917.2 1118.9,918.1 1119.9,918.5 1120.8,919.1 1121.8,919.9 1122.8,920.8 1123.8,921.6 1124.7,922.2 1125.7,922.9 1126.7,923.2 1127.7,924.0 1128.7,924.8 1129.7,925.9 1130.7,926.3 1131.7,927.3 1132.7,927.6 1133.7,928.3 1134.6,929.2 1135.6,930.3 1136.6,931.0 1137.6,931.8 1138.6,932.2 1139.6,933.1 1140.6,933.8 1141.6,934.5 1142.6,935.0 1143.6,936.3 1144.6,936.4 1145.7,937.7 1146.7,938.3 1147.7,938.2 1148.7,939.2 1149.8,940.2 1150.8,940.9 1151.8,941.2 1152.8,941.7 1153.9,942.3 1154.9,943.6 1155.9,943.6 1156.9,944.6 1158.0,944.9 1159.0,945.9 1160.0,946.9 1161.0,946.9 1162.1,948.1 1163.1,948.5 1164.1,949.5 1165.1,950.0 1166.2,950.3 1167.2,951.5 1168.2,951.8 1169.2,952.1 1170.3,952.7 1171.3,953.8 1172.3,954.5 1173.4,955.2 1174.4,955.8 1175.4,956.8 1176.4,957.5 1177.5,958.7 1178.5,958.8 1179.5,960.2 1180.5,961.0 1181.6,961.2 1182.6,962.6 1183.7,963.2 1184.9,964.0 1186.0,964.2 1187.1,964.9 1188.2,965.6 1189.4,966.8 1190.5,967.1 1191.6,967.6 1192.8,968.4 1193.9,968.9 1194.9,969.5 1195.9,970.3 1196.9,971.7 1197.9,972.0 1198.9,973.3 1199.9,973.5 1200.9,974.3 1201.9,975.2 1202.9,975.7 1203.9,976.6 1204.9,977.9 1205.9,978.6 1206.9,979.3 1207.9,979.9 1208.9,980.9 1209.9,981.7 1210.9,982.1 1212.0,983.0 1213.2,983.1 1214.3,984.3 1215.4,984.8 1216.6,985.7 1217.7,986.3 1218.8,986.7 1219.9,987.2 1221.1,988.6 1222.2,988.6 1223.3,989.4 1224.5,989.8 1225.6,990.3 1226.7,991.1 1227.8,991.8 1229.0,991.8 1230.1,992.6 1231.2,992.8 1232.4,993.5 1233.5,993.9 1234.8,994.2 1236.0,994.6 1237.3,995.0 1238.6,996.0 1239.9,996.1 1241.2,996.3 1242.4,997.3 1243.7,997.8 1244.8,997.9 1246.0,998.2 1247.1,998.9 1248.2,999.3 1249.4,1000.1 1250.5,1000.5 1251.8,1001.0 1253.2,1001.5 1254.5,1002.2 1255.9,1002.9 1257.2,1003.2 1258.3,1002.5 1259.5,1002.1 1260.7,1001.7 1261.8,1001.2 1262.9,1000.5 1264.0,999.4 1265.2,999.2 1266.3,999.9 1268.0,998.7 1269.7,999.6 1270.8,1000.4 1272.0,1001.4 1273.1,1000.8 1274.2,1001.5 1275.1,1000.3 1276.0,999.5 1276.9,998.4 1277.8,998.2 1278.7,996.9 1279.8,996.5 1281.0,994.6 1282.1,994.2 1283.2,995.0 1284.5,994.7 1285.9,993.4 1287.2,993.1 1287.3,990.7 1287.5,990.2 1287.6,989.9 1287.7,988.4 1287.9,987.2 1288.0,986.2 1288.1,983.6 1288.2,982.1 1288.4,980.9 1288.5,980.3 1288.6,979.4 1288.8,978.6 1288.9,976.9 1289.4,975.6 1289.8,974.7 1290.3,973.0 1290.7,972.0 1291.2,970.0 1292.3,970.5 1293.5,968.8 1294.6,969.3 1295.1,967.5 1295.5,965.6 1296.0,964.0 1296.5,962.9 1297.0,962.3 1297.4,961.1 1297.9,958.8 1298.2,957.5 1298.4,957.0 1298.7,955.9 1298.9,954.3 1299.2,952.7 1299.4,952.1 1299.7,949.8 1299.9,949.1 1300.2,948.1 1300.7,947.8 1301.1,946.0 1301.6,945.2 1302.1,943.2 1302.5,941.6 1303.0,940.3 1304.1,941.1 1305.3,940.1 1306.4,938.9 1306.6,937.1 1306.8,936.7 1307.0,935.7 1307.2,934.0 1307.3,932.4 1307.5,931.9 1307.7,931.1 1307.9,928.6 1308.1,927.0 1308.4,926.3 1308.6,925.1 1308.9,924.4 1309.1,922.2 1309.4,922.1 1309.6,920.7 1309.9,919.0 1310.1,917.2 1310.4,917.3 1310.5,914.9 1310.6,914.6 1310.7,912.4 1310.7,911.1 1310.8,910.9 1310.9,908.8 1311.0,908.8 1311.1,906.8 1311.2,905.0 1311.2,903.8 1311.3,903.0 1311.4,902.2 1311.5,901.5 1311.7,898.7 1311.9,897.8 1312.2,896.1 1312.4,896.1 1312.6,893.3 1313.2,892.0 1313.8,890.9 1314.3,890.3 1314.9,890.1 1315.1,888.8 1315.2,887.2 1315.4,886.4 1315.5,885.0 1315.7,882.7 1315.8,881.1 1316.0,881.2 1316.6,879.4 1317.2,877.5 1318.3,877.8 1319.4,879.8" fill="none" stroke="#0cf40c" stroke-width="2.2" stroke-linejoin="round"/>
<text x="1165.9" y="855.4" font-size="30" text-anchor="middle">DC vs. B up</text>
<text x="1004.6" y="963" font-size="25.6" textLength="139.5" lengthAdjust="spacingAndGlyphs">NES = -1.84</text>
<text x="1004.6" y="994.8" font-size="25.6" textLength="146.5" lengthAdjust="spacingAndGlyphs">FDR = 0.002</text>
<text x="0" y="0" font-size="26.3" text-anchor="middle" textLength="196" lengthAdjust="spacingAndGlyphs" transform="translate(948.3,937.4) rotate(-90)">enrichment score</text>
<text x="997.8" y="1094.7" font-size="25"><tspan font-weight="bold">sh_<tspan font-style="italic">Spi1</tspan></tspan><tspan font-size="22.5"> (TIS)</tspan></text>
<text x="1319.3" y="1094.7" font-size="25" text-anchor="end"><tspan font-size="22.5">(TIS) </tspan><tspan font-weight="bold">sh_ctrl</tspan></text>
<text x="927.0" y="528.3" font-size="49" font-weight="bold">d</text>
<rect x="1550.10" y="690.40" width="76.00" height="28.32" fill="#898de8"/>
<rect x="1625.80" y="690.40" width="76.00" height="28.32" fill="#b3b6f0"/>
<rect x="1701.50" y="690.40" width="76.20" height="28.32" fill="#ffd4d4"/>
<rect x="1777.40" y="690.40" width="76.30" height="28.32" fill="#ff4040"/>
<rect x="1550.10" y="718.42" width="76.00" height="28.32" fill="#a7aaee"/>
<rect x="1625.80" y="718.42" width="76.00" height="28.32" fill="#c8caf4"/>
<rect x="1701.50" y="718.42" width="76.20" height="28.32" fill="#ebecfb"/>
<rect x="1777.40" y="718.42" width="76.30" height="28.32" fill="#ff0000"/>
<rect x="1550.10" y="746.44" width="76.00" height="28.32" fill="#aeb2ef"/>
<rect x="1625.80" y="746.44" width="76.00" height="28.32" fill="#7e84e6"/>
<rect x="1701.50" y="746.44" width="76.20" height="28.32" fill="#ffa6a6"/>
<rect x="1777.40" y="746.44" width="76.30" height="28.32" fill="#ff8080"/>
<rect x="1550.10" y="774.46" width="76.00" height="28.32" fill="#9a9eeb"/>
<rect x="1625.80" y="774.46" width="76.00" height="28.32" fill="#c0c2f2"/>
<rect x="1701.50" y="774.46" width="76.20" height="28.32" fill="#fffcfc"/>
<rect x="1777.40" y="774.46" width="76.30" height="28.32" fill="#ff1919"/>
<rect x="1550.10" y="802.48" width="76.00" height="28.32" fill="#7277e3"/>
<rect x="1625.80" y="802.48" width="76.00" height="28.32" fill="#d9dbf8"/>
<rect x="1701.50" y="802.48" width="76.20" height="28.32" fill="#ffe6e6"/>
<rect x="1777.40" y="802.48" width="76.30" height="28.32" fill="#ff4040"/>
<rect x="1550.10" y="830.50" width="76.00" height="28.32" fill="#9599ea"/>
<rect x="1625.80" y="830.50" width="76.00" height="28.32" fill="#b8bbf1"/>
<rect x="1701.50" y="830.50" width="76.20" height="28.32" fill="#ffe6e6"/>
<rect x="1777.40" y="830.50" width="76.30" height="28.32" fill="#ff2e2e"/>
<rect x="1550.10" y="858.52" width="76.00" height="28.32" fill="#a7aaee"/>
<rect x="1625.80" y="858.52" width="76.00" height="28.32" fill="#a7aaee"/>
<rect x="1701.50" y="858.52" width="76.20" height="28.32" fill="#ffdede"/>
<rect x="1777.40" y="858.52" width="76.30" height="28.32" fill="#ff2e2e"/>
<rect x="1550.10" y="886.54" width="76.00" height="28.32" fill="#898de8"/>
<rect x="1625.80" y="886.54" width="76.00" height="28.32" fill="#aeb2ef"/>
<rect x="1701.50" y="886.54" width="76.20" height="28.32" fill="#ff9c9c"/>
<rect x="1777.40" y="886.54" width="76.30" height="28.32" fill="#ff9494"/>
<rect x="1550.10" y="914.56" width="76.00" height="28.32" fill="#9fa3ec"/>
<rect x="1625.80" y="914.56" width="76.00" height="28.32" fill="#9599ea"/>
<rect x="1701.50" y="914.56" width="76.20" height="28.32" fill="#ff9494"/>
<rect x="1777.40" y="914.56" width="76.30" height="28.32" fill="#ffa6a6"/>
<rect x="1550.10" y="942.58" width="76.00" height="28.32" fill="#a2a5ec"/>
<rect x="1625.80" y="942.58" width="76.00" height="28.32" fill="#a7aaee"/>
<rect x="1701.50" y="942.58" width="76.20" height="28.32" fill="#ffc7c7"/>
<rect x="1777.40" y="942.58" width="76.30" height="28.32" fill="#ff5959"/>
<rect x="1550.10" y="970.60" width="76.00" height="28.32" fill="#b3b6f0"/>
<rect x="1625.80" y="970.60" width="76.00" height="28.32" fill="#898de8"/>
<rect x="1701.50" y="970.60" width="76.20" height="28.32" fill="#ff6e6e"/>
<rect x="1777.40" y="970.60" width="76.30" height="28.32" fill="#ffc7c7"/>
<rect x="1550.10" y="998.62" width="76.00" height="28.32" fill="#a2a5ec"/>
<rect x="1625.80" y="998.62" width="76.00" height="28.32" fill="#a7aaee"/>
<rect x="1701.50" y="998.62" width="76.20" height="28.32" fill="#ffcccc"/>
<rect x="1777.40" y="998.62" width="76.30" height="28.32" fill="#ff5959"/>
<rect x="1550.10" y="1026.64" width="76.00" height="28.32" fill="#9fa3ec"/>
<rect x="1625.80" y="1026.64" width="76.00" height="28.32" fill="#9fa3ec"/>
<rect x="1701.50" y="1026.64" width="76.20" height="28.32" fill="#ffb8b8"/>
<rect x="1777.40" y="1026.64" width="76.30" height="28.32" fill="#ff6e6e"/>
<rect x="1550.10" y="1054.66" width="76.00" height="28.32" fill="#9fa3ec"/>
<rect x="1625.80" y="1054.66" width="76.00" height="28.32" fill="#9a9eeb"/>
<rect x="1701.50" y="1054.66" width="76.20" height="28.32" fill="#ffa6a6"/>
<rect x="1777.40" y="1054.66" width="76.30" height="28.32" fill="#ff9494"/>
<line x1="1550.00" y1="689.20" x2="1853.90" y2="689.20" stroke="#000" stroke-width="2.2"/>
<line x1="1550.00" y1="613.90" x2="1853.90" y2="613.90" stroke="#000" stroke-width="2.2"/>
<line x1="1701.70" y1="613.90" x2="1701.70" y2="1082.68" stroke="#000" stroke-width="2.2"/>
<text x="1857.8" y="712.6" font-size="25.2" font-style="italic">Csf1r</text>
<text x="1857.8" y="740.6" font-size="25.2" font-style="italic">Csf2rb2</text>
<text x="1857.8" y="768.6" font-size="25.2" font-style="italic">Itgam</text>
<text x="1857.8" y="796.7" font-size="25.2" font-style="italic">Il1b</text>
<text x="1857.8" y="824.7" font-size="25.2" font-style="italic">Cd86</text>
<text x="1857.8" y="852.7" font-size="25.2" font-style="italic">Ms4a1</text>
<text x="1857.8" y="880.7" font-size="25.2" font-style="italic">Ly6a</text>
<text x="1857.8" y="908.7" font-size="25.2" font-style="italic">Ciita</text>
<text x="1857.8" y="936.8" font-size="25.2" font-style="italic">Ctss</text>
<text x="1857.8" y="964.8" font-size="25.2" font-style="italic">Cd74</text>
<text x="1857.8" y="992.8" font-size="25.2" font-style="italic">H2-DMa</text>
<text x="1857.8" y="1020.8" font-size="25.2" font-style="italic">H2-Ab1</text>
<text x="1857.8" y="1048.8" font-size="25.2" font-style="italic">H2-Eb1</text>
<text x="1857.8" y="1076.9" font-size="25.2" font-style="italic">Cd274</text>
<text x="1554.6" y="601" font-size="25.5">control;<tspan font-style="italic">bcl2;</tspan>PU.1•ER<tspan font-size="21" dy="-10.8">T2</tspan></text>
<text x="1546.8" y="644.2" font-size="25" text-anchor="end">ADR</text>
<text x="1546.8" y="679.9" font-size="25.2" text-anchor="end">4-OHT</text>
<text x="1588.2" y="645.5" font-size="40" text-anchor="middle">-</text>
<text x="1664.4" y="645.5" font-size="40" text-anchor="middle">-</text>
<text x="1740.0" y="644.5" font-size="34" text-anchor="middle" stroke="#000" stroke-width="0.6">+</text>
<text x="1816.0" y="644.5" font-size="34" text-anchor="middle" stroke="#000" stroke-width="0.6">+</text>
<text x="1588.2" y="681.1" font-size="40" text-anchor="middle">-</text>
<text x="1664.4" y="680.2" font-size="34" text-anchor="middle" stroke="#000" stroke-width="0.6">+</text>
<text x="1740.0" y="681.1" font-size="40" text-anchor="middle">-</text>
<text x="1816.0" y="680.2" font-size="34" text-anchor="middle" stroke="#000" stroke-width="0.6">+</text>
<defs><linearGradient id="ge" x1="0" x2="1" y1="0" y2="0"><stop offset="0" stop-color="#0000e6"/><stop offset="0.03" stop-color="#1828e4"/><stop offset="0.1" stop-color="#5060e6"/><stop offset="0.2" stop-color="#8890ec"/><stop offset="0.33" stop-color="#b8bcf4"/><stop offset="0.44" stop-color="#e6e8fa"/><stop offset="0.5" stop-color="#ffffff"/><stop offset="0.57" stop-color="#ffeaea"/><stop offset="0.67" stop-color="#ffc2c2"/><stop offset="0.8" stop-color="#ff9494"/><stop offset="0.9" stop-color="#ff6262"/><stop offset="0.97" stop-color="#ff2222"/><stop offset="1" stop-color="#ff0000"/></linearGradient></defs>
<rect x="1891.40" y="562.60" width="102.20" height="44.80" fill="url(#ge)" stroke="#000" stroke-width="1.6"/>
<line x1="1908.20" y1="607.40" x2="1908.20" y2="617.20" stroke="#000" stroke-width="2"/>
<line x1="1925.30" y1="607.40" x2="1925.30" y2="617.20" stroke="#000" stroke-width="2"/>
<line x1="1942.10" y1="607.40" x2="1942.10" y2="617.20" stroke="#000" stroke-width="2"/>
<line x1="1958.90" y1="607.40" x2="1958.90" y2="617.20" stroke="#000" stroke-width="2"/>
<line x1="1975.70" y1="607.40" x2="1975.70" y2="617.20" stroke="#000" stroke-width="2"/>
<text x="1908.0" y="634.0" font-size="21.5" text-anchor="middle">-1</text>
<text x="1941.2" y="634.0" font-size="21.5" text-anchor="middle">0</text>
<text x="1975.2" y="634.0" font-size="21.5" text-anchor="middle">1</text>
<text x="1880.6" y="654.5" font-size="22">Row <tspan font-style="italic">Z</tspan>-score</text>
<text x="1468.4" y="528.4" font-size="49.5" font-weight="bold">e</text>
</svg>
</body></html>
